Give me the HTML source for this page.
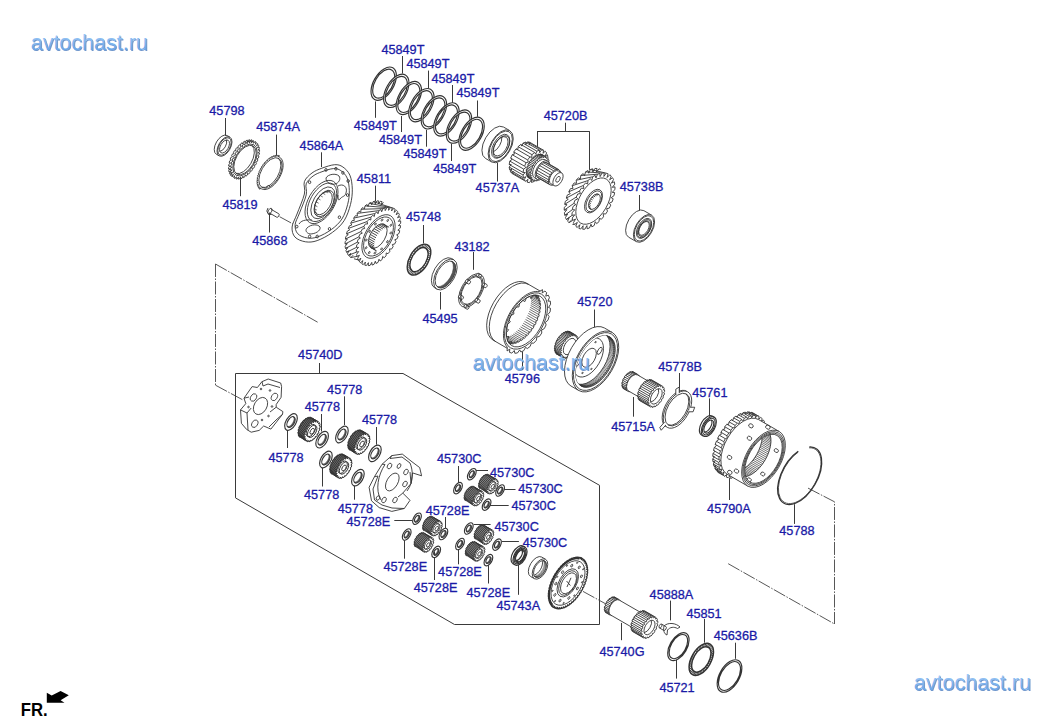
<!DOCTYPE html>
<html><head><meta charset="utf-8"><style>
html,body{margin:0;padding:0;background:#fff;width:1063px;height:727px;overflow:hidden}
svg{display:block}
.pp *{vector-effect:non-scaling-stroke}
.lb{font-family:"Liberation Sans",sans-serif;font-size:12.7px;fill:#1a1aa6;stroke:#1a1aa6;stroke-width:0.3px}
.wm{font-family:"Liberation Sans",sans-serif;font-size:21.5px;fill:#74acec}
</style></head><body>
<svg width="1063" height="727" viewBox="0 0 1063 727">
<defs><linearGradient id="wg" x1="0" y1="0" x2="0" y2="1"><stop offset="0" stop-color="#a6d0fa"/><stop offset="1" stop-color="#5c9ae2"/></linearGradient>
<filter id="ws" x="-10%" y="-30%" width="120%" height="160%"><feGaussianBlur stdDeviation="0.6"/></filter></defs>
<g stroke="#3a3a3a" stroke-width="1" fill="none">
<line x1="402.5" y1="56" x2="402.5" y2="73.5"/>
<line x1="428.5" y1="70.6" x2="428.5" y2="88.5"/>
<line x1="452.5" y1="85" x2="452.5" y2="103"/>
<line x1="477.5" y1="100.5" x2="477.5" y2="116.8"/>
<line x1="375.5" y1="101.4" x2="375.5" y2="117.8"/>
<line x1="401.5" y1="116" x2="401.5" y2="132"/>
<line x1="426.5" y1="130" x2="426.5" y2="146.7"/>
<line x1="451.5" y1="143.8" x2="451.5" y2="161"/>
<line x1="225.5" y1="118" x2="225.5" y2="135.7"/>
<line x1="276.5" y1="134.6" x2="276.5" y2="156.6"/>
<line x1="321.5" y1="152.3" x2="321.5" y2="167"/>
<line x1="240.5" y1="177.5" x2="240.5" y2="196.2"/>
<line x1="269.5" y1="213.8" x2="269.5" y2="232.5"/>
<line x1="375.5" y1="185.7" x2="375.5" y2="203.3"/>
<line x1="423.5" y1="225" x2="423.5" y2="243.5"/>
<line x1="497.5" y1="162" x2="497.5" y2="181.5"/>
<line x1="565.5" y1="122.7" x2="565.5" y2="131.4"/>
<line x1="537.5" y1="131.4" x2="537.5" y2="149.5"/>
<line x1="589.5" y1="131.4" x2="589.5" y2="170"/>
<line x1="639.5" y1="195" x2="639.5" y2="212.5"/>
<line x1="473.5" y1="252" x2="473.5" y2="269.8"/>
<line x1="440.5" y1="292" x2="440.5" y2="309.5"/>
<line x1="522.5" y1="351.6" x2="522.5" y2="370"/>
<line x1="594.5" y1="309.5" x2="594.5" y2="327"/>
<line x1="319.5" y1="363" x2="319.5" y2="373.4"/>
<line x1="344.5" y1="396.3" x2="344.5" y2="425"/>
<line x1="321.5" y1="414" x2="321.5" y2="431.5"/>
<line x1="376.5" y1="427" x2="376.5" y2="444.7"/>
<line x1="287.5" y1="428.2" x2="287.5" y2="448"/>
<line x1="322.5" y1="467.8" x2="322.5" y2="486.5"/>
<line x1="354.5" y1="485.4" x2="354.5" y2="499.7"/>
<line x1="458.5" y1="466" x2="458.5" y2="483"/>
<line x1="445.5" y1="517" x2="445.5" y2="529.4"/>
<line x1="404.5" y1="539.5" x2="404.5" y2="558.7"/>
<line x1="434.5" y1="552" x2="434.5" y2="580"/>
<line x1="458.5" y1="547.4" x2="458.5" y2="564.3"/>
<line x1="488.5" y1="564.3" x2="488.5" y2="583.5"/>
<line x1="518.5" y1="563.2" x2="518.5" y2="594.8"/>
<line x1="679.5" y1="373" x2="679.5" y2="391.8"/>
<line x1="709.5" y1="398.4" x2="709.5" y2="416.7"/>
<line x1="633.5" y1="397" x2="633.5" y2="416.7"/>
<line x1="729.5" y1="478" x2="729.5" y2="500"/>
<line x1="794.5" y1="504.2" x2="794.5" y2="523.9"/>
<line x1="670.5" y1="600.6" x2="670.5" y2="620.4"/>
<line x1="704.5" y1="619" x2="704.5" y2="642.7"/>
<line x1="735.5" y1="642.7" x2="735.5" y2="658.8"/>
<line x1="621.5" y1="622.9" x2="621.5" y2="640.2"/>
<line x1="676.5" y1="660" x2="676.5" y2="678.6"/>
<line x1="473.7" y1="470.5" x2="488" y2="470.5"/>
<line x1="503.7" y1="489.5" x2="515.5" y2="489.5"/>
<line x1="489.5" y1="505.5" x2="508.7" y2="505.5"/>
<line x1="473.7" y1="524.5" x2="490.6" y2="524.5"/>
<line x1="502" y1="541.5" x2="518.9" y2="541.5"/>
<line x1="394.3" y1="520.5" x2="412.3" y2="520.5"/>
<line x1="537" y1="131.5" x2="589.7" y2="131.5"/>
<path d="M235.5,373.5 L403,373.5 L599.5,485.3 L599.5,624.5 L454.5,624.5 L235.5,497.9 Z"/>
</g><g stroke="#444" stroke-width="0.9" fill="none" stroke-dasharray="13,1.5,1.5,1.5">
<path d="M215.5,264 L215.5,385.2"/>
<path d="M215.5,264 L317.6,322.2"/>
<path d="M215.5,385.2 L243,400"/>
<path d="M583,591.4 L605.8,603.9"/>
<path d="M808,488.1 L834.5,501.8 L834.5,624"/>
<path d="M728.2,563.7 L834.5,624"/>
<path d="M279.6,216.7 L293,224"/>
</g>
<g class="pp" stroke="#333" stroke-width="0.9" fill="none" stroke-linejoin="round"><g transform="translate(224.5,146.5) rotate(30) scale(0.555,1)" ><path fill-rule="evenodd" fill="#fff" d="M10.8,0 A10.8,10.8 0 1 0 -10.8,0 A10.8,10.8 0 1 0 10.8,0 Z M7.2,0 A7.2,7.2 0 1 0 -7.2,0 A7.2,7.2 0 1 0 7.2,0 Z"/><circle cx="0" cy="0" r="9.6" fill="none"/><path d="M-5.77,-10.8 A10.8,10.8 0 0 0 -5.77,10.8"/><path d="M-5.77,-10.8 L0,-10.8 M-5.77,10.8 L0,10.8"/><path d="M-2.88,-6.6 A7.2,7.2 0 0 1 -2.88,6.6"/></g>
<g transform="translate(245,160) rotate(30) scale(0.555,1)" ><path d="M-4.93,20.98 L-5.7,18.72 L-5.7,18.72 L-6.87,20.8 L-8.77,20.44 L-9.11,18.08 L-9.11,18.08 L-10.64,19.91 L-12.45,19.21 L-12.34,16.83 L-12.34,16.83 L-14.18,18.35 L-15.83,17.32 L-15.29,15 L-15.29,15 L-17.38,16.16 L-18.81,14.85 L-17.86,12.67 L-17.86,12.67 L-20.12,13.42 L-21.29,11.87 L-19.95,9.9 L-19.95,9.9 L-22.31,10.22 L-23.17,8.48 L-21.49,6.79 L-21.49,6.79 L-23.88,6.67 L-24.41,4.81 L-22.44,3.45 L-22.44,3.45 L-24.76,2.9 L-24.94,0.97 L-22.76,0 L-22.76,0 L-24.94,-0.97 L-24.76,-2.9 L-22.44,-3.45 L-22.44,-3.45 L-24.41,-4.81 L-23.88,-6.67 L-21.49,-6.79 L-21.49,-6.79 L-23.17,-8.48 L-22.31,-10.22 L-19.95,-9.9 L-19.95,-9.9 L-21.29,-11.87 L-20.12,-13.42 L-17.86,-12.67 L-17.86,-12.67 L-18.81,-14.85 L-17.38,-16.16 L-15.29,-15 L-15.29,-15 L-15.83,-17.32 L-14.18,-18.35 L-12.34,-16.83 L-12.34,-16.83 L-12.45,-19.21 L-10.64,-19.91 L-9.11,-18.08 L-9.11,-18.08 L-8.77,-20.44 L-6.87,-20.8 L-5.7,-18.72 L-5.7,-18.72 L-4.93,-20.98"/><path fill-rule="evenodd" fill="#fff" d="M18.8,0 L20.98,0.97 L20.8,2.9 L18.48,3.45 L18.48,3.45 L20.44,4.81 L19.91,6.67 L17.53,6.79 L17.53,6.79 L19.21,8.48 L18.35,10.22 L15.98,9.9 L15.98,9.9 L17.32,11.87 L16.16,13.42 L13.89,12.67 L13.89,12.67 L14.85,14.85 L13.42,16.16 L11.33,15 L11.33,15 L11.87,17.32 L10.22,18.35 L8.38,16.83 L8.38,16.83 L8.48,19.21 L6.67,19.91 L5.14,18.08 L5.14,18.08 L4.81,20.44 L2.9,20.8 L1.73,18.72 L1.73,18.72 L0.97,20.98 L-0.97,20.98 L-1.73,18.72 L-1.73,18.72 L-2.9,20.8 L-4.81,20.44 L-5.14,18.08 L-5.14,18.08 L-6.67,19.91 L-8.48,19.21 L-8.38,16.83 L-8.38,16.83 L-10.22,18.35 L-11.87,17.32 L-11.33,15 L-11.33,15 L-13.42,16.16 L-14.85,14.85 L-13.89,12.67 L-13.89,12.67 L-16.16,13.42 L-17.32,11.87 L-15.98,9.9 L-15.98,9.9 L-18.35,10.22 L-19.21,8.48 L-17.53,6.79 L-17.53,6.79 L-19.91,6.67 L-20.44,4.81 L-18.48,3.45 L-18.48,3.45 L-20.8,2.9 L-20.98,0.97 L-18.8,0 L-18.8,0 L-20.98,-0.97 L-20.8,-2.9 L-18.48,-3.45 L-18.48,-3.45 L-20.44,-4.81 L-19.91,-6.67 L-17.53,-6.79 L-17.53,-6.79 L-19.21,-8.48 L-18.35,-10.22 L-15.98,-9.9 L-15.98,-9.9 L-17.32,-11.87 L-16.16,-13.42 L-13.89,-12.67 L-13.89,-12.67 L-14.85,-14.85 L-13.42,-16.16 L-11.33,-15 L-11.33,-15 L-11.87,-17.32 L-10.22,-18.35 L-8.38,-16.83 L-8.38,-16.83 L-8.48,-19.21 L-6.67,-19.91 L-5.14,-18.08 L-5.14,-18.08 L-4.81,-20.44 L-2.9,-20.8 L-1.73,-18.72 L-1.73,-18.72 L-0.97,-20.98 L0.97,-20.98 L1.73,-18.72 L1.73,-18.72 L2.9,-20.8 L4.81,-20.44 L5.14,-18.08 L5.14,-18.08 L6.67,-19.91 L8.48,-19.21 L8.38,-16.83 L8.38,-16.83 L10.22,-18.35 L11.87,-17.32 L11.33,-15 L11.33,-15 L13.42,-16.16 L14.85,-14.85 L13.89,-12.67 L13.89,-12.67 L16.16,-13.42 L17.32,-11.87 L15.98,-9.9 L15.98,-9.9 L18.35,-10.22 L19.21,-8.48 L17.53,-6.79 L17.53,-6.79 L19.91,-6.67 L20.44,-4.81 L18.48,-3.45 L18.48,-3.45 L20.8,-2.9 L20.98,-0.97 L18.8,-0 Z M16.2,0 A16.2,16.2 0 1 0 -16.2,0 A16.2,16.2 0 1 0 16.2,0 Z"/><circle cx="0" cy="0" r="17.6" fill="none"/><path d="M-1.98,-16.08 A16.2,16.2 0 0 1 -1.98,16.08"/></g>
<g transform="translate(270.5,173) rotate(30) scale(0.555,1)" ><path fill-rule="evenodd" fill="#fff" d="M-1.91,19.41 L-2.38,18.04 L-2.38,18.04 L-3.18,19.24 L-4.43,18.99 L-4.71,17.58 L-4.71,17.58 L-5.66,18.66 L-6.87,18.25 L-6.96,16.81 L-6.96,16.81 L-8.05,17.76 L-9.19,17.2 L-9.1,15.76 L-9.1,15.76 L-10.3,16.56 L-11.36,15.85 L-11.08,14.44 L-11.08,14.44 L-12.37,15.07 L-13.33,14.23 L-12.87,12.87 L-12.87,12.87 L-14.23,13.33 L-15.07,12.37 L-14.44,11.08 L-14.44,11.08 L-15.85,11.36 L-16.56,10.3 L-15.76,9.1 L-15.76,9.1 L-17.2,9.19 L-17.76,8.05 L-16.81,6.96 L-16.81,6.96 L-18.25,6.87 L-18.66,5.66 L-17.58,4.71 L-17.58,4.71 L-18.99,4.43 L-19.24,3.18 L-18.04,2.38 L-18.04,2.38 L-19.41,1.91 L-19.49,0.64 L-18.2,0 L-18.2,0 L-19.49,-0.64 L-19.41,-1.91 L-18.04,-2.38 L-18.04,-2.38 L-19.24,-3.18 L-18.99,-4.43 L-17.58,-4.71 L-17.58,-4.71 L-18.66,-5.66 L-18.25,-6.87 L-16.81,-6.96 L-16.81,-6.96 L-17.76,-8.05 L-17.2,-9.19 L-15.76,-9.1 L-15.76,-9.1 L-16.56,-10.3 L-15.85,-11.36 L-14.44,-11.08 L-14.44,-11.08 L-15.07,-12.37 L-14.23,-13.33 L-12.87,-12.87 L-12.87,-12.87 L-13.33,-14.23 L-12.37,-15.07 L-11.08,-14.44 L-11.08,-14.44 L-11.36,-15.85 L-10.3,-16.56 L-9.1,-15.76 L-9.1,-15.76 L-9.19,-17.2 L-8.05,-17.76 L-6.96,-16.81 L-6.96,-16.81 L-6.87,-18.25 L-5.66,-18.66 L-4.71,-17.58 L-4.71,-17.58 L-4.43,-18.99 L-3.18,-19.24 L-2.38,-18.04 L-2.38,-18.04 L-1.91,-19.41 L-1.59,-18.13 L0.42,-18.2 L2.43,-18.04 L4.4,-17.66 L6.32,-17.07 L8.17,-16.26 L9.91,-15.26 L11.54,-14.08 L13.02,-12.72 L14.34,-11.21 L15.49,-9.55 L16.45,-7.79 L17.21,-5.93 L17.76,-3.99 L18.09,-2.01 L18.2,-0 L18.09,2.01 L17.76,3.99 L17.21,5.93 L16.45,7.79 L15.49,9.55 L14.34,11.21 L13.02,12.72 L11.54,14.08 L9.91,15.26 L8.17,16.26 L6.32,17.07 L4.4,17.66 L2.43,18.04 L0.42,18.2 L-1.59,18.13 Z M16.8,0 A16.8,16.8 0 1 0 -16.8,0 A16.8,16.8 0 1 0 16.8,0 Z"/><path d="M-1.35,-16.75 A16.8,16.8 0 0 1 -1.35,16.75"/><path d="M10.8,12.87 L9.32,11.11 L6.81,12.8 L7.89,14.83" fill="#fff"/></g>
<path d="M334.7,164.7 C338.2,164.5 340.37,165.25 342.9,167 C345.43,168.75 348.33,171.5 349.9,175.2 C351.47,178.9 352.2,184.33 352.3,189.2 C352.4,194.07 351.87,199.15 350.5,204.4 C349.13,209.65 347.12,216.03 344.1,220.7 C341.08,225.37 336.88,229.08 332.4,232.4 C327.92,235.72 321.68,239.03 317.2,240.6 C312.72,242.17 309.2,242.38 305.5,241.8 C301.8,241.22 297.23,239.57 295,237.1 C292.77,234.63 291.77,230.85 292.1,227 C292.43,223.15 294.95,219.5 297,214 C299.05,208.5 303.17,199.4 304.4,194 C305.63,188.6 303.13,185.1 304.4,181.6 C305.67,178.1 309.08,175.23 312,173 C314.92,170.77 318.12,169.58 321.9,168.2 C325.68,166.82 331.2,164.9 334.7,164.7 Z" fill="#fff"/>
<path d="M333.48,168.58 C336.63,168.4 338.58,169.07 340.86,170.65 C343.14,172.23 345.75,174.7 347.16,178.03 C348.57,181.36 349.23,186.25 349.32,190.63 C349.41,195.01 348.93,199.59 347.7,204.31 C346.47,209.03 344.65,214.78 341.94,218.98 C339.23,223.18 335.44,226.52 331.41,229.51 C327.38,232.5 321.76,235.48 317.73,236.89 C313.7,238.3 310.53,238.5 307.2,237.97 C303.87,237.45 299.76,235.96 297.75,233.74 C295.74,231.52 294.84,228.12 295.14,224.65 C295.44,221.19 297.71,217.9 299.55,212.95 C301.39,208 305.1,199.81 306.21,194.95 C307.32,190.09 305.07,186.94 306.21,183.79 C307.35,180.64 310.43,178.06 313.05,176.05 C315.68,174.04 318.55,172.97 321.96,171.73 C325.37,170.48 330.33,168.76 333.48,168.58 Z"/>
<g transform="translate(321.5,202) rotate(30) scale(0.555,1)" ><circle cx="0" cy="0" r="23.8" fill="#fff"/><circle cx="1" cy="0" r="21.2" fill="none"/><circle cx="3" cy="0" r="17.5" fill="#fff"/><circle cx="5.5" cy="0" r="14.5" fill="#fff"/><circle cx="4" cy="0" r="12.8" fill="none"/><path d="M0.04,13.63 L6.04,13.63 M-3.32,11.88 L2.68,11.88 M-6.11,9.32 L-0.11,9.32 M-8.14,6.13 L-2.14,6.13 M-9.28,2.52 L-3.28,2.52 M-9.44,-1.26 L-3.44,-1.26 M-8.63,-4.96 L-2.63,-4.96 M-6.88,-8.32 L-0.88,-8.32 M-4.32,-11.11 L1.68,-11.11 M-1.13,-13.14 L4.87,-13.14 " stroke-width="0.7"/></g>
<ellipse cx="325.97" cy="169.93" rx="1.2" ry="1.4"/>
<ellipse cx="335.9" cy="168.76" rx="1.2" ry="1.4"/>
<ellipse cx="342.91" cy="172.85" rx="1.2" ry="1.4"/>
<ellipse cx="348.16" cy="181.03" rx="1.2" ry="1.4"/>
<ellipse cx="347.58" cy="195.05" rx="1.2" ry="1.4"/>
<ellipse cx="339.4" cy="217.24" rx="1.2" ry="1.4"/>
<ellipse cx="329.47" cy="228.93" rx="1.2" ry="1.4"/>
<ellipse cx="317.21" cy="236.52" rx="1.2" ry="1.4"/>
<ellipse cx="309.61" cy="236.52" rx="1.2" ry="1.4"/>
<ellipse cx="296.76" cy="226.59" rx="1.2" ry="1.4"/>
<ellipse cx="309.61" cy="182.2" rx="1.2" ry="1.4"/>
<path d="M326,178 C328,174 336,173 339,176 C341,179 339,183 335,184 C331,185 326,183 326,178 Z"/>
<path d="M338,186 C343,183 348,187 346,193 C345,197 342,196 340,199 C338,202 338,197 338,195"/>
<path d="M307,228 C311,224 318,224 320,227 C321,231 315,234 310,234 C306,233 305,230 307,228 Z"/>
<path d="M299,224 C302,219 309,220 312,220"/>
<g transform="translate(270,211) rotate(30) scale(0.555,1)" ><circle cx="0" cy="0" r="3" fill="#fff"/><path d="M0,-2 L16.22,-2 M0,2 L16.22,2"/><path d="M16.22,-2 A2,2 0 0 1 16.22,2"/></g>
<path d="M268,208 L266.8,211 L268.5,214.5 L271.5,214.5" fill="none"/>
<g transform="translate(383.7,83.7) rotate(30) scale(0.555,1)" ><path stroke-width="1.15" fill-rule="evenodd" fill="#fff" d="M18.3,0 A18.3,18.3 0 1 0 -18.3,0 A18.3,18.3 0 1 0 18.3,0 Z M15.9,0 A15.9,15.9 0 1 0 -15.9,0 A15.9,15.9 0 1 0 15.9,0 Z"/></g>
<g transform="translate(396.25,90.85) rotate(30) scale(0.555,1)" ><path stroke-width="1.15" fill-rule="evenodd" fill="#fff" d="M18.3,0 A18.3,18.3 0 1 0 -18.3,0 A18.3,18.3 0 1 0 18.3,0 Z M15.9,0 A15.9,15.9 0 1 0 -15.9,0 A15.9,15.9 0 1 0 15.9,0 Z"/></g>
<g transform="translate(408.8,98) rotate(30) scale(0.555,1)" ><path stroke-width="1.15" fill-rule="evenodd" fill="#fff" d="M18.3,0 A18.3,18.3 0 1 0 -18.3,0 A18.3,18.3 0 1 0 18.3,0 Z M15.9,0 A15.9,15.9 0 1 0 -15.9,0 A15.9,15.9 0 1 0 15.9,0 Z"/></g>
<g transform="translate(421.35,105.15) rotate(30) scale(0.555,1)" ><path stroke-width="1.15" fill-rule="evenodd" fill="#fff" d="M18.3,0 A18.3,18.3 0 1 0 -18.3,0 A18.3,18.3 0 1 0 18.3,0 Z M15.9,0 A15.9,15.9 0 1 0 -15.9,0 A15.9,15.9 0 1 0 15.9,0 Z"/></g>
<g transform="translate(433.9,112.3) rotate(30) scale(0.555,1)" ><path stroke-width="1.15" fill-rule="evenodd" fill="#fff" d="M18.3,0 A18.3,18.3 0 1 0 -18.3,0 A18.3,18.3 0 1 0 18.3,0 Z M15.9,0 A15.9,15.9 0 1 0 -15.9,0 A15.9,15.9 0 1 0 15.9,0 Z"/></g>
<g transform="translate(446.45,119.45) rotate(30) scale(0.555,1)" ><path stroke-width="1.15" fill-rule="evenodd" fill="#fff" d="M18.3,0 A18.3,18.3 0 1 0 -18.3,0 A18.3,18.3 0 1 0 18.3,0 Z M15.9,0 A15.9,15.9 0 1 0 -15.9,0 A15.9,15.9 0 1 0 15.9,0 Z"/></g>
<g transform="translate(459,126.6) rotate(30) scale(0.555,1)" ><path stroke-width="1.15" fill-rule="evenodd" fill="#fff" d="M18.3,0 A18.3,18.3 0 1 0 -18.3,0 A18.3,18.3 0 1 0 18.3,0 Z M15.9,0 A15.9,15.9 0 1 0 -15.9,0 A15.9,15.9 0 1 0 15.9,0 Z"/></g>
<g transform="translate(471.55,133.75) rotate(30) scale(0.555,1)" ><path stroke-width="1.15" fill-rule="evenodd" fill="#fff" d="M18.3,0 A18.3,18.3 0 1 0 -18.3,0 A18.3,18.3 0 1 0 18.3,0 Z M15.9,0 A15.9,15.9 0 1 0 -15.9,0 A15.9,15.9 0 1 0 15.9,0 Z"/></g>
<g transform="translate(378.5,236.5) rotate(30) scale(0.555,1)" ><path d="M0,-32 L-23.42,-32 A32,32 0 0 0 -23.42,32 L0,32 A32,32 0 0 0 0,-32 Z" fill="#fff" stroke="none"/><path d="M-22.65,28.79 L-22.65,28.79 L-24.05,31.99 L-27,31.8 L-27.96,28.44 L-27.96,28.44 L-29.92,31.33 L-32.78,30.6 L-33.11,27.12 L-33.11,27.12 L-35.56,29.61 L-38.24,28.36 L-37.93,24.88 L-37.93,24.88 L-40.8,26.87 L-43.2,25.16 L-42.25,21.79 L-42.25,21.79 L-45.44,23.22 L-47.49,21.09 L-45.93,17.96 L-45.93,17.96 L-49.33,18.78 L-50.95,16.31 L-48.85,13.52 L-48.85,13.52 L-52.34,13.7 L-53.48,10.98 L-50.9,8.62 L-50.9,8.62 L-54.37,8.16 L-54.99,5.27 L-52.02,3.42 L-52.02,3.42 L-55.34,2.33 L-55.42,-0.62 L-52.16,-1.89 L-52.16,-1.89 L-55.22,-3.57 L-54.76,-6.49 L-51.32,-7.14 L-51.32,-7.14 L-54.03,-9.36 L-53.03,-12.14 L-49.54,-12.14 L-49.54,-12.14 L-51.78,-14.82 L-50.3,-17.37 L-46.86,-16.74 L-46.86,-16.74 L-48.58,-19.78 L-46.65,-22.02 L-43.39,-20.76 L-43.39,-20.76 L-44.52,-24.06 L-42.21,-25.91 L-39.23,-24.07 L-39.23,-24.07 L-39.74,-27.53 L-37.13,-28.92 L-34.54,-26.57 L-34.54,-26.57 L-34.4,-30.06 L-31.58,-30.94 L-29.47,-28.16 L-29.47,-28.16 L-28.69,-31.56 L-25.75,-31.92 L-24.19,-28.79 L-24.19,-28.79 L-22.8,-31.99"/><path d="M-4.42,31.69 L-12.45,30.06 M-10.17,30.34 L-18.16,31.56 M-15.57,27.96 L-24.05,31.99 M-20.44,24.62 L-29.92,31.33 M-24.62,20.44 L-35.56,29.61 M-27.96,15.57 L-40.8,26.87 M-30.34,10.17 L-45.44,23.22 M-31.69,4.42 L-49.33,18.78 M-31.97,-1.48 L-52.34,13.7 M-31.15,-7.33 L-54.37,8.16 M-29.27,-12.93 L-55.34,2.33 M-26.4,-18.08 L-55.22,-3.57 M-22.63,-22.63 L-54.03,-9.36 M-18.08,-26.4 L-51.78,-14.82 M-12.93,-29.27 L-48.58,-19.78 M-7.33,-31.15 L-44.52,-24.06 M-1.48,-31.97 L-39.74,-27.53 "/><path d="M28.8,0 L31.97,1.48 L31.69,4.42 L28.31,5.29 L28.31,5.29 L31.15,7.33 L30.34,10.17 L26.86,10.4 L26.86,10.4 L29.27,12.93 L27.96,15.57 L24.49,15.16 L24.49,15.16 L26.4,18.08 L24.62,20.44 L21.28,19.4 L21.28,19.4 L22.63,22.63 L20.44,24.62 L17.36,22.98 L17.36,22.98 L18.08,26.4 L15.57,27.96 L12.84,25.78 L12.84,25.78 L12.93,29.27 L10.17,30.34 L7.88,27.7 L7.88,27.7 L7.33,31.15 L4.42,31.69 L2.66,28.68 L2.66,28.68 L1.48,31.97 L-1.48,31.97 L-2.66,28.68 L-2.66,28.68 L-4.42,31.69 L-7.33,31.15 L-7.88,27.7 L-7.88,27.7 L-10.17,30.34 L-12.93,29.27 L-12.84,25.78 L-12.84,25.78 L-15.57,27.96 L-18.08,26.4 L-17.36,22.98 L-17.36,22.98 L-20.44,24.62 L-22.63,22.63 L-21.28,19.4 L-21.28,19.4 L-24.62,20.44 L-26.4,18.08 L-24.49,15.16 L-24.49,15.16 L-27.96,15.57 L-29.27,12.93 L-26.86,10.4 L-26.86,10.4 L-30.34,10.17 L-31.15,7.33 L-28.31,5.29 L-28.31,5.29 L-31.69,4.42 L-31.97,1.48 L-28.8,0 L-28.8,0 L-31.97,-1.48 L-31.69,-4.42 L-28.31,-5.29 L-28.31,-5.29 L-31.15,-7.33 L-30.34,-10.17 L-26.86,-10.4 L-26.86,-10.4 L-29.27,-12.93 L-27.96,-15.57 L-24.49,-15.16 L-24.49,-15.16 L-26.4,-18.08 L-24.62,-20.44 L-21.28,-19.4 L-21.28,-19.4 L-22.63,-22.63 L-20.44,-24.62 L-17.36,-22.98 L-17.36,-22.98 L-18.08,-26.4 L-15.57,-27.96 L-12.84,-25.78 L-12.84,-25.78 L-12.93,-29.27 L-10.17,-30.34 L-7.88,-27.7 L-7.88,-27.7 L-7.33,-31.15 L-4.42,-31.69 L-2.66,-28.68 L-2.66,-28.68 L-1.48,-31.97 L1.48,-31.97 L2.66,-28.68 L2.66,-28.68 L4.42,-31.69 L7.33,-31.15 L7.88,-27.7 L7.88,-27.7 L10.17,-30.34 L12.93,-29.27 L12.84,-25.78 L12.84,-25.78 L15.57,-27.96 L18.08,-26.4 L17.36,-22.98 L17.36,-22.98 L20.44,-24.62 L22.63,-22.63 L21.28,-19.4 L21.28,-19.4 L24.62,-20.44 L26.4,-18.08 L24.49,-15.16 L24.49,-15.16 L27.96,-15.57 L29.27,-12.93 L26.86,-10.4 L26.86,-10.4 L30.34,-10.17 L31.15,-7.33 L28.31,-5.29 L28.31,-5.29 L31.69,-4.42 L31.97,-1.48 L28.8,-0 Z" fill="#fff"/><circle cx="0" cy="0" r="24" fill="#fff"/><circle cx="0" cy="0" r="21.5" fill="none"/><circle cx="-1.5" cy="0" r="13.5" fill="#fff"/><circle cx="18.5" cy="0" r="1.2"/><circle cx="16.02" cy="9.25" r="1.2"/><circle cx="9.25" cy="16.02" r="1.2"/><circle cx="0" cy="18.5" r="1.2"/><circle cx="-9.25" cy="16.02" r="1.2"/><circle cx="-16.02" cy="9.25" r="1.2"/><circle cx="-18.5" cy="0" r="1.2"/><circle cx="-16.02" cy="-9.25" r="1.2"/><circle cx="-9.25" cy="-16.02" r="1.2"/><circle cx="-0" cy="-18.5" r="1.2"/><circle cx="9.25" cy="-16.02" r="1.2"/><circle cx="16.02" cy="-9.25" r="1.2"/><path d="M-1.5,13.5 L10.5,13.5 M-3.84,13.29 L8.16,13.29 M-6.12,12.69 L5.88,12.69 M-8.25,11.69 L3.75,11.69 M-10.18,10.34 L1.82,10.34 M-11.84,8.68 L0.16,8.68 M-13.19,6.75 L-1.19,6.75 M-14.19,4.62 L-2.19,4.62 M-14.79,2.34 L-2.79,2.34 M-15,0 L-3,0 M-14.79,-2.34 L-2.79,-2.34 M-14.19,-4.62 L-2.19,-4.62 M-13.19,-6.75 L-1.19,-6.75 M-11.84,-8.68 L0.16,-8.68 M-10.18,-10.34 L1.82,-10.34 M-8.25,-11.69 L3.75,-11.69 M-6.12,-12.69 L5.88,-12.69 M-3.84,-13.29 L8.16,-13.29 "/></g>
<g transform="translate(419,259.6) rotate(30) scale(0.555,1)" ><path fill-rule="evenodd" fill="#fff" stroke-width="1.4" d="M17,0 A17,17 0 1 0 -17,0 A17,17 0 1 0 17,0 Z M13.2,0 A13.2,13.2 0 1 0 -13.2,0 A13.2,13.2 0 1 0 13.2,0 Z"/><path d="M13.2,0 L17,0 M13.04,2.06 L16.79,2.66 M12.55,4.08 L16.17,5.25 M11.76,5.99 L15.15,7.72 M10.68,7.76 L13.75,9.99 M9.33,9.33 L12.02,12.02 M7.76,10.68 L9.99,13.75 M5.99,11.76 L7.72,15.15 M4.08,12.55 L5.25,16.17 M2.06,13.04 L2.66,16.79 M0,13.2 L0,17 M-2.06,13.04 L-2.66,16.79 M-4.08,12.55 L-5.25,16.17 M-5.99,11.76 L-7.72,15.15 M-7.76,10.68 L-9.99,13.75 M-9.33,9.33 L-12.02,12.02 M-10.68,7.76 L-13.75,9.99 M-11.76,5.99 L-15.15,7.72 M-12.55,4.08 L-16.17,5.25 M-13.04,2.06 L-16.79,2.66 M-13.2,0 L-17,0 M-13.04,-2.06 L-16.79,-2.66 M-12.55,-4.08 L-16.17,-5.25 M-11.76,-5.99 L-15.15,-7.72 M-10.68,-7.76 L-13.75,-9.99 M-9.33,-9.33 L-12.02,-12.02 M-7.76,-10.68 L-9.99,-13.75 M-5.99,-11.76 L-7.72,-15.15 M-4.08,-12.55 L-5.25,-16.17 M-2.06,-13.04 L-2.66,-16.79 M-0,-13.2 L-0,-17 M2.06,-13.04 L2.66,-16.79 M4.08,-12.55 L5.25,-16.17 M5.99,-11.76 L7.72,-15.15 M7.76,-10.68 L9.99,-13.75 M9.33,-9.33 L12.02,-12.02 M10.68,-7.76 L13.75,-9.99 M11.76,-5.99 L15.15,-7.72 M12.55,-4.08 L16.17,-5.25 M13.04,-2.06 L16.79,-2.66 " stroke-width="0.8"/></g>
<g transform="translate(445.4,274.5) rotate(30) scale(0.555,1)" ><path d="M0,-17 L-4.68,-17 A17,17 0 0 0 -4.68,17 L0,17 Z" fill="#fff" stroke="none"/><path d="M0,-17 L-4.68,-17 A17,17 0 0 0 -4.68,17 L0,17"/><path fill-rule="evenodd" fill="#fff" d="M17,0 A17,17 0 1 0 -17,0 A17,17 0 1 0 17,0 Z M14.8,0 A14.8,14.8 0 1 0 -14.8,0 A14.8,14.8 0 1 0 14.8,0 Z"/><path d="M-2.34,-14.61 A14.8,14.8 0 1 1 -2.34,14.61 A14.8,14.8 0 0 0 -2.34,-14.61 Z" fill="#555" stroke-width="0.5"/></g>
<g transform="translate(471.5,290.5) rotate(30) scale(0.555,1)" ><path fill-rule="evenodd" fill="#fff" d="M18.5,0 A18.5,18.5 0 1 0 -18.5,0 A18.5,18.5 0 1 0 18.5,0 Z M15.2,0 A15.2,15.2 0 1 0 -15.2,0 A15.2,15.2 0 1 0 15.2,0 Z"/><circle cx="0" cy="0" r="16.6" fill="none"/><g transform="translate(16.16,5.88)"><circle cx="0" cy="0" r="1.8" fill="#fff"/><path d="M0,-1.8 L5.41,-1.8 M0,1.8 L5.41,1.8"/><path d="M5.41,-1.8 A1.8,1.8 0 0 1 5.41,1.8"/></g><g transform="translate(4.45,16.61)"><circle cx="0" cy="0" r="1.8" fill="#fff"/><path d="M0,-1.8 L5.41,-1.8 M0,1.8 L5.41,1.8"/><path d="M5.41,-1.8 A1.8,1.8 0 0 1 5.41,1.8"/></g><g transform="translate(-13.18,11.06)"><circle cx="0" cy="0" r="1.8" fill="#fff"/><path d="M0,-1.8 L5.41,-1.8 M0,1.8 L5.41,1.8"/><path d="M5.41,-1.8 A1.8,1.8 0 0 1 5.41,1.8"/></g><g transform="translate(-16.16,-5.88)"><circle cx="0" cy="0" r="1.8" fill="#fff"/><path d="M0,-1.8 L5.41,-1.8 M0,1.8 L5.41,1.8"/><path d="M5.41,-1.8 A1.8,1.8 0 0 1 5.41,1.8"/></g><g transform="translate(-4.45,-16.61)"><circle cx="0" cy="0" r="1.8" fill="#fff"/><path d="M0,-1.8 L5.41,-1.8 M0,1.8 L5.41,1.8"/><path d="M5.41,-1.8 A1.8,1.8 0 0 1 5.41,1.8"/></g><g transform="translate(13.18,-11.06)"><circle cx="0" cy="0" r="1.8" fill="#fff"/><path d="M0,-1.8 L5.41,-1.8 M0,1.8 L5.41,1.8"/><path d="M5.41,-1.8 A1.8,1.8 0 0 1 5.41,1.8"/></g></g>
<g transform="translate(500.7,146.3) rotate(30) scale(0.555,1)" ><path d="M0,-18.1 L-12.97,-18.1 A18.1,18.1 0 0 0 -12.97,18.1 L0,18.1 A18.1,18.1 0 0 0 0,-18.1 Z" fill="#fff" stroke="none"/><path d="M-12.97,-18.1 A18.1,18.1 0 0 0 -12.97,18.1"/><path d="M-12.97,-18.1 L0,-18.1 M-12.97,18.1 L0,18.1"/><circle cx="0" cy="0" r="18.1" fill="#fff"/><circle cx="0" cy="0" r="16.8" fill="none"/><path fill-rule="evenodd" fill="#fff" d="M13.2,0 A13.2,13.2 0 1 0 -13.2,0 A13.2,13.2 0 1 0 13.2,0 Z M10.6,0 A10.6,10.6 0 1 0 -10.6,0 A10.6,10.6 0 1 0 10.6,0 Z"/><circle cx="1.2" cy="0" r="12" fill="none"/><path d="M-6.49,-8.38 A10.6,10.6 0 0 1 -6.49,8.38"/></g>
<g transform="translate(558,179.3) rotate(30) scale(0.555,1)" ><path d="M-46.85,-18 L-75.68,-18 A18,18 0 0 0 -75.68,18 L-46.85,18 A18,18 0 0 0 -46.85,-18 Z" fill="#fff" stroke="none"/><path d="M-75.68,15 L-75.68,15 L-77.26,17.93 L-81.07,17.17 L-81.42,13.86 L-81.42,13.86 L-84,15.96 L-87.23,13.8 L-86.28,10.61 L-86.28,10.61 L-89.48,11.56 L-91.63,8.33 L-89.53,5.74 L-89.53,5.74 L-92.85,5.39 L-93.61,1.59 L-90.68,0 L-90.68,0 L-93.61,-1.59 L-92.85,-5.39 L-89.53,-5.74 L-89.53,-5.74 L-91.63,-8.33 L-89.48,-11.56 L-86.28,-10.61 L-86.28,-10.61 L-87.23,-13.8 L-84,-15.96 L-81.42,-13.86 L-81.42,-13.86 L-81.07,-17.17 L-77.26,-17.93 L-75.68,-15 L-75.68,-15"/><path d="M-48.44,17.93 L-77.26,17.93 M-52.24,17.17 L-81.07,17.17 M-55.18,15.96 L-84,15.96 M-58.4,13.8 L-87.23,13.8 M-60.65,11.56 L-89.48,11.56 M-62.8,8.33 L-91.63,8.33 M-64.02,5.39 L-92.85,5.39 M-64.78,1.59 L-93.61,1.59 M-64.78,-1.59 L-93.61,-1.59 M-64.02,-5.39 L-92.85,-5.39 M-62.8,-8.33 L-91.63,-8.33 M-60.65,-11.56 L-89.48,-11.56 M-58.4,-13.8 L-87.23,-13.8 M-55.18,-15.96 L-84,-15.96 M-52.24,-17.17 L-81.07,-17.17 M-48.44,-17.93 L-77.26,-17.93 "/><path d="M-31.85,0 L-31.85,0 L-28.92,1.59 L-29.67,5.39 L-32.99,5.74 L-32.99,5.74 L-30.89,8.33 L-33.05,11.56 L-36.24,10.61 L-36.24,10.61 L-35.29,13.8 L-38.52,15.96 L-41.11,13.86 L-41.11,13.86 L-41.45,17.17 L-45.26,17.93 L-46.85,15 L-46.85,15 L-48.44,17.93 L-52.24,17.17 L-52.59,13.86 L-52.59,13.86 L-55.18,15.96 L-58.4,13.8 L-57.45,10.61 L-57.45,10.61 L-60.65,11.56 L-62.8,8.33 L-60.71,5.74 L-60.71,5.74 L-64.02,5.39 L-64.78,1.59 L-61.85,0 L-61.85,0 L-64.78,-1.59 L-64.02,-5.39 L-60.71,-5.74 L-60.71,-5.74 L-62.8,-8.33 L-60.65,-11.56 L-57.45,-10.61 L-57.45,-10.61 L-58.4,-13.8 L-55.18,-15.96 L-52.59,-13.86 L-52.59,-13.86 L-52.24,-17.17 L-48.44,-17.93 L-46.85,-15 L-46.85,-15 L-45.26,-17.93 L-41.45,-17.17 L-41.11,-13.86 L-41.11,-13.86 L-38.52,-15.96 L-35.29,-13.8 L-36.24,-10.61 L-36.24,-10.61 L-33.05,-11.56 L-30.89,-8.33 L-32.99,-5.74 L-32.99,-5.74 L-29.67,-5.39 L-28.92,-1.59 L-31.85,-0 L-31.85,-0 Z" fill="#fff"/><path d="M-37.84,-13.5 L-46.85,-13.5 A13.5,13.5 0 0 0 -46.85,13.5 L-37.84,13.5 A13.5,13.5 0 0 0 -37.84,-13.5 Z" fill="#fff" stroke="none"/><path d="M-47.66,13.48 L-48.32,12.11 L-48.32,12.11 L-49.28,13.28 L-50.86,12.89 L-51.17,11.41 L-51.17,11.41 L-52.39,12.31 L-53.83,11.55 L-53.78,10.04 L-53.78,10.04 L-55.17,10.63 L-56.39,9.55 L-55.98,8.09 L-55.98,8.09 L-57.47,8.33 L-58.4,6.98 L-57.65,5.67 L-57.65,5.67 L-59.16,5.54 L-59.74,4.02 L-58.69,2.92 L-58.69,2.92 L-60.13,2.43 L-60.32,0.82 L-59.05,0 L-59.05,0 L-60.32,-0.82 L-60.13,-2.43 L-58.69,-2.92 L-58.69,-2.92 L-59.74,-4.02 L-59.16,-5.54 L-57.65,-5.67 L-57.65,-5.67 L-58.4,-6.98 L-57.47,-8.33 L-55.98,-8.09 L-55.98,-8.09 L-56.39,-9.55 L-55.17,-10.63 L-53.78,-10.04 L-53.78,-10.04 L-53.83,-11.55 L-52.39,-12.31 L-51.17,-11.41 L-51.17,-11.41 L-50.86,-12.89 L-49.28,-13.28 L-48.32,-12.11 L-48.32,-12.11 L-47.66,-13.48"/><path d="M-38.65,13.48 L-47.66,13.48 M-40.27,13.28 L-49.28,13.28 M-41.85,12.89 L-50.86,12.89 M-43.38,12.31 L-52.39,12.31 M-44.82,11.55 L-53.83,11.55 M-46.16,10.63 L-55.17,10.63 M-47.38,9.55 L-56.39,9.55 M-48.46,8.33 L-57.47,8.33 M-49.39,6.98 L-58.4,6.98 M-50.15,5.54 L-59.16,5.54 M-50.73,4.02 L-59.74,4.02 M-51.12,2.43 L-60.13,2.43 M-51.31,0.82 L-60.32,0.82 M-51.31,-0.82 L-60.32,-0.82 M-51.12,-2.43 L-60.13,-2.43 M-50.73,-4.02 L-59.74,-4.02 M-50.15,-5.54 L-59.16,-5.54 M-49.39,-6.98 L-58.4,-6.98 M-48.46,-8.33 L-57.47,-8.33 M-47.38,-9.55 L-56.39,-9.55 M-46.16,-10.63 L-55.17,-10.63 M-44.82,-11.55 L-53.83,-11.55 M-43.38,-12.31 L-52.39,-12.31 M-41.85,-12.89 L-50.86,-12.89 M-40.27,-13.28 L-49.28,-13.28 M-38.65,-13.48 L-47.66,-13.48 "/><path d="M-25.64,0 L-25.64,0 L-24.36,0.82 L-24.56,2.43 L-25.99,2.92 L-25.99,2.92 L-24.95,4.02 L-25.53,5.54 L-27.04,5.67 L-27.04,5.67 L-26.28,6.98 L-27.21,8.33 L-28.71,8.09 L-28.71,8.09 L-28.29,9.55 L-29.51,10.63 L-30.91,10.04 L-30.91,10.04 L-30.85,11.55 L-32.3,12.31 L-33.51,11.41 L-33.51,11.41 L-33.82,12.89 L-35.4,13.28 L-36.37,12.11 L-36.37,12.11 L-37.02,13.48 L-38.65,13.48 L-39.31,12.11 L-39.31,12.11 L-40.27,13.28 L-41.85,12.89 L-42.16,11.41 L-42.16,11.41 L-43.38,12.31 L-44.82,11.55 L-44.77,10.04 L-44.77,10.04 L-46.16,10.63 L-47.38,9.55 L-46.97,8.09 L-46.97,8.09 L-48.46,8.33 L-49.39,6.98 L-48.64,5.67 L-48.64,5.67 L-50.15,5.54 L-50.73,4.02 L-49.68,2.92 L-49.68,2.92 L-51.12,2.43 L-51.31,0.82 L-50.04,0 L-50.04,0 L-51.31,-0.82 L-51.12,-2.43 L-49.68,-2.92 L-49.68,-2.92 L-50.73,-4.02 L-50.15,-5.54 L-48.64,-5.67 L-48.64,-5.67 L-49.39,-6.98 L-48.46,-8.33 L-46.97,-8.09 L-46.97,-8.09 L-47.38,-9.55 L-46.16,-10.63 L-44.77,-10.04 L-44.77,-10.04 L-44.82,-11.55 L-43.38,-12.31 L-42.16,-11.41 L-42.16,-11.41 L-41.85,-12.89 L-40.27,-13.28 L-39.31,-12.11 L-39.31,-12.11 L-38.65,-13.48 L-37.02,-13.48 L-36.37,-12.11 L-36.37,-12.11 L-35.4,-13.28 L-33.82,-12.89 L-33.51,-11.41 L-33.51,-11.41 L-32.3,-12.31 L-30.85,-11.55 L-30.91,-10.04 L-30.91,-10.04 L-29.51,-10.63 L-28.29,-9.55 L-28.71,-8.09 L-28.71,-8.09 L-27.21,-8.33 L-26.28,-6.98 L-27.04,-5.67 L-27.04,-5.67 L-25.53,-5.54 L-24.95,-4.02 L-25.99,-2.92 L-25.99,-2.92 L-24.56,-2.43 L-24.36,-0.82 L-25.64,-0 L-25.64,0 Z" fill="#fff"/><path d="M-32.43,-10.5 L-37.84,-10.5 A10.5,10.5 0 0 0 -37.84,10.5 L-32.43,10.5 A10.5,10.5 0 0 0 -32.43,-10.5 Z" fill="#fff" stroke="none"/><path d="M-37.84,-10.5 A10.5,10.5 0 0 0 -37.84,10.5"/><path d="M-37.84,-10.5 L-32.43,-10.5 M-37.84,10.5 L-32.43,10.5"/><circle cx="-32.43" cy="0" r="10.5" fill="#fff"/><path d="M-7.21,-8.8 L-32.43,-8.8 A8.8,8.8 0 0 0 -32.43,8.8 L-7.21,8.8 A8.8,8.8 0 0 0 -7.21,-8.8 Z" fill="#fff" stroke="none"/><path d="M-32.43,-8.8 A8.8,8.8 0 0 0 -32.43,8.8"/><path d="M-32.43,-8.8 L-7.21,-8.8 M-32.43,8.8 L-7.21,8.8"/><circle cx="-7.21" cy="0" r="8.8" fill="#fff"/><path d="M-35.15,8.37 L-9.93,8.37 M-37.6,7.12 L-12.38,7.12 M-39.55,5.17 L-14.33,5.17 M-40.8,2.72 L-15.58,2.72 M-41.23,0 L-16.01,0 M-40.8,-2.72 L-15.58,-2.72 M-39.55,-5.17 L-14.33,-5.17 M-37.6,-7.12 L-12.38,-7.12 M-35.15,-8.37 L-9.93,-8.37 "/><path d="M0,-7.4 L-7.21,-7.4 A7.4,7.4 0 0 0 -7.21,7.4 L0,7.4 A7.4,7.4 0 0 0 0,-7.4 Z" fill="#fff" stroke="none"/><path d="M-7.21,-7.4 A7.4,7.4 0 0 0 -7.21,7.4"/><path d="M-7.21,-7.4 L0,-7.4 M-7.21,7.4 L0,7.4"/><circle cx="0" cy="0" r="7.4" fill="#fff"/><circle cx="0" cy="0" r="3.2" fill="#fff"/></g>
<g transform="translate(593.5,201.1) rotate(30) scale(0.555,1)" ><path d="M0,-31 L-16.22,-31 A31,31 0 0 0 -16.22,31 L0,31 A31,31 0 0 0 0,-31 Z" fill="#fff" stroke="none"/><path d="M-17.03,27.19 L-17.03,27.19 L-18.88,30.89 L-22.32,30.39 L-23.06,26.33 L-23.06,26.33 L-25.69,29.52 L-28.93,28.27 L-28.75,24.14 L-28.75,24.14 L-32.02,26.67 L-34.9,24.73 L-33.8,20.75 L-33.8,20.75 L-37.56,22.49 L-39.94,19.96 L-37.98,16.32 L-37.98,16.32 L-42.02,17.17 L-43.78,14.18 L-41.06,11.06 L-41.06,11.06 L-45.2,11 L-46.25,7.69 L-42.9,5.26 L-42.9,5.26 L-46.92,4.28 L-47.21,0.81 L-43.4,-0.81 L-43.4,-0.81 L-47.1,-2.66 L-46.61,-6.1 L-42.54,-6.84 L-42.54,-6.84 L-45.73,-9.47 L-44.49,-12.71 L-40.36,-12.53 L-40.36,-12.53 L-42.89,-15.8 L-40.95,-18.69 L-36.97,-17.59 L-36.97,-17.59 L-38.7,-21.34 L-36.17,-23.72 L-32.53,-21.76 L-32.53,-21.76 L-33.39,-25.81 L-30.39,-27.57 L-27.28,-24.85 L-27.28,-24.85 L-27.22,-28.98 L-23.9,-30.03 L-21.47,-26.69 L-21.47,-26.69 L-20.49,-30.7 L-17.03,-30.99"/><path d="M-1.74,30.95 L-5.22,28.98 M-8.58,29.79 L-11.94,30.7 M-15,27.13 L-18.88,30.89 M-20.66,23.11 L-25.69,29.52 M-25.28,17.94 L-32.02,26.67 M-28.64,11.86 L-37.56,22.49 M-30.56,5.19 L-42.02,17.17 M-30.95,-1.74 L-45.2,11 M-29.79,-8.58 L-46.92,4.28 M-27.13,-15 L-47.1,-2.66 M-23.11,-20.66 L-45.73,-9.47 M-17.94,-25.28 L-42.89,-15.8 M-11.86,-28.64 L-38.7,-21.34 M-5.19,-30.56 L-33.39,-25.81 "/><path d="M27.2,0 L27.2,0 L30.95,1.74 L30.56,5.19 L26.52,6.05 L26.52,6.05 L29.79,8.58 L28.64,11.86 L24.51,11.8 L24.51,11.8 L27.13,15 L25.28,17.94 L21.27,16.96 L21.27,16.96 L23.11,20.66 L20.66,23.11 L16.96,21.27 L16.96,21.27 L17.94,25.28 L15,27.13 L11.8,24.51 L11.8,24.51 L11.86,28.64 L8.58,29.79 L6.05,26.52 L6.05,26.52 L5.19,30.56 L1.74,30.95 L0,27.2 L0,27.2 L-1.74,30.95 L-5.19,30.56 L-6.05,26.52 L-6.05,26.52 L-8.58,29.79 L-11.86,28.64 L-11.8,24.51 L-11.8,24.51 L-15,27.13 L-17.94,25.28 L-16.96,21.27 L-16.96,21.27 L-20.66,23.11 L-23.11,20.66 L-21.27,16.96 L-21.27,16.96 L-25.28,17.94 L-27.13,15 L-24.51,11.8 L-24.51,11.8 L-28.64,11.86 L-29.79,8.58 L-26.52,6.05 L-26.52,6.05 L-30.56,5.19 L-30.95,1.74 L-27.2,0 L-27.2,0 L-30.95,-1.74 L-30.56,-5.19 L-26.52,-6.05 L-26.52,-6.05 L-29.79,-8.58 L-28.64,-11.86 L-24.51,-11.8 L-24.51,-11.8 L-27.13,-15 L-25.28,-17.94 L-21.27,-16.96 L-21.27,-16.96 L-23.11,-20.66 L-20.66,-23.11 L-16.96,-21.27 L-16.96,-21.27 L-17.94,-25.28 L-15,-27.13 L-11.8,-24.51 L-11.8,-24.51 L-11.86,-28.64 L-8.58,-29.79 L-6.05,-26.52 L-6.05,-26.52 L-5.19,-30.56 L-1.74,-30.95 L-0,-27.2 L-0,-27.2 L1.74,-30.95 L5.19,-30.56 L6.05,-26.52 L6.05,-26.52 L8.58,-29.79 L11.86,-28.64 L11.8,-24.51 L11.8,-24.51 L15,-27.13 L17.94,-25.28 L16.96,-21.27 L16.96,-21.27 L20.66,-23.11 L23.11,-20.66 L21.27,-16.96 L21.27,-16.96 L25.28,-17.94 L27.13,-15 L24.51,-11.8 L24.51,-11.8 L28.64,-11.86 L29.79,-8.58 L26.52,-6.05 L26.52,-6.05 L30.56,-5.19 L30.95,-1.74 L27.2,-0 L27.2,-0 Z" fill="#fff"/><circle cx="0" cy="0" r="25.5" fill="none"/><circle cx="0" cy="0" r="13" fill="#fff"/><circle cx="0.8" cy="0" r="11.5" fill="none"/><circle cx="2" cy="0" r="8.5" fill="#fff"/><path d="M0.52,8.37 L4.52,8.37 M-1.46,7.77 L2.54,7.77 M-3.23,6.7 L0.77,6.7 M-4.7,5.23 L-0.7,5.23 M-5.77,3.46 L-1.77,3.46 M-6.37,1.48 L-2.37,1.48 M-6.48,-0.59 L-2.48,-0.59 M-6.08,-2.63 L-2.08,-2.63 M-5.21,-4.5 L-1.21,-4.5 M-3.9,-6.11 L0.1,-6.11 M-2.25,-7.36 L1.75,-7.36 M-0.34,-8.17 L3.66,-8.17 "/></g>
<g transform="translate(644,228.4) rotate(30) scale(0.555,1)" ><path d="M0,-15.3 L-16.22,-15.3 A15.3,15.3 0 0 0 -16.22,15.3 L0,15.3 A15.3,15.3 0 0 0 0,-15.3 Z" fill="#fff" stroke="none"/><path d="M-16.22,-15.3 A15.3,15.3 0 0 0 -16.22,15.3"/><path d="M-16.22,-15.3 L0,-15.3 M-16.22,15.3 L0,15.3"/><circle cx="0" cy="0" r="15.3" fill="#fff"/><circle cx="0" cy="0" r="14" fill="none"/><path fill-rule="evenodd" fill="#fff" d="M11,0 A11,11 0 1 0 -11,0 A11,11 0 1 0 11,0 Z M7.6,0 A7.6,7.6 0 1 0 -7.6,0 A7.6,7.6 0 1 0 7.6,0 Z"/><circle cx="0.8" cy="0" r="10" fill="none"/><circle cx="0.8" cy="0" r="8.6" fill="none"/></g>
<g transform="translate(526,321) rotate(30) scale(0.555,1)" ><path d="M0,-33 L-34.23,-33 A33,33 0 0 0 -34.23,33 L0,33 A33,33 0 0 0 0,-33 Z" fill="#fff" stroke="none"/><path d="M-34.23,-33 A33,33 0 0 0 -34.23,33"/><path d="M-34.23,-33 L0,-33 M-34.23,33 L0,33"/><path d="M-28.83,33 A33,33 0 0 1 -28.83,-33"/><path fill-rule="evenodd" fill="#fff" d="M-2.55,-35.41 L0,-32.5 L0,-32.5 L2.55,-35.41 L6.7,-34.86 L8.41,-31.39 L8.41,-31.39 L11.63,-33.54 L15.49,-31.94 L16.25,-28.15 L16.25,-28.15 L19.92,-29.39 L23.23,-26.84 L22.98,-22.98 L22.98,-22.98 L26.84,-23.23 L29.39,-19.92 L28.15,-16.25 L28.15,-16.25 L31.94,-15.49 L33.54,-11.63 L31.39,-8.41 L31.39,-8.41 L34.86,-6.7 L35.41,-2.55 L32.5,0 L32.5,0 L35.41,2.55 L34.86,6.7 L31.39,8.41 L31.39,8.41 L33.54,11.63 L31.94,15.49 L28.15,16.25 L28.15,16.25 L29.39,19.92 L26.84,23.23 L22.98,22.98 L22.98,22.98 L23.23,26.84 L19.92,29.39 L16.25,28.15 L16.25,28.15 L15.49,31.94 L11.63,33.54 L8.41,31.39 L8.41,31.39 L6.7,34.86 L2.55,35.41 L0,32.5 L0,32.5 L-2.55,35.41 L-5.64,32.01 L-8.59,31.34 L-11.47,30.41 L-14.25,29.21 L-16.9,27.76 L-19.41,26.07 L-21.75,24.15 L-23.9,22.03 L-25.84,19.71 L-27.56,17.22 L-29.04,14.59 L-30.27,11.82 L-31.24,8.96 L-31.94,6.02 L-32.36,3.02 L-32.5,0 L-32.36,-3.02 L-31.94,-6.02 L-31.24,-8.96 L-30.27,-11.82 L-29.04,-14.59 L-27.56,-17.22 L-25.84,-19.71 L-23.9,-22.03 L-21.75,-24.15 L-19.41,-26.07 L-16.9,-27.76 L-14.25,-29.21 L-11.47,-30.41 L-8.59,-31.34 L-5.64,-32.01 Z M28.5,0 A28.5,28.5 0 1 0 -28.5,0 A28.5,28.5 0 1 0 28.5,0 Z"/><circle cx="0" cy="0" r="31" fill="none"/><clipPath id="c796"><circle cx="0" cy="0" r="28.5"/></clipPath><g clip-path="url(#c796)"><path d="M-9.82,-28.48 L-29.64,-28.48 M-7.58,-28.32 L-27.4,-28.32 M-5.36,-27.97 L-25.18,-27.97 M-3.18,-27.46 L-23,-27.46 M-1.04,-26.77 L-20.86,-26.77 M1.04,-25.92 L-18.78,-25.92 M3.04,-24.91 L-16.78,-24.91 M4.96,-23.74 L-14.86,-23.74 M6.78,-22.43 L-13.04,-22.43 M8.49,-20.97 L-11.33,-20.97 M10.08,-19.39 L-9.74,-19.39 M11.54,-17.69 L-8.28,-17.69 M12.86,-15.87 L-6.96,-15.87 M14.04,-13.96 L-5.78,-13.96 M15.06,-11.96 L-4.76,-11.96 M15.92,-9.89 L-3.9,-9.89 M16.61,-7.76 L-3.21,-7.76 M17.14,-5.58 L-2.68,-5.58 M17.49,-3.36 L-2.33,-3.36 M17.67,-1.12 L-2.15,-1.12 M17.67,1.12 L-2.15,1.12 M17.49,3.36 L-2.33,3.36 M17.14,5.58 L-2.68,5.58 M16.61,7.76 L-3.21,7.76 M15.92,9.89 L-3.9,9.89 M15.06,11.96 L-4.76,11.96 M14.04,13.96 L-5.78,13.96 M12.86,15.87 L-6.96,15.87 M11.54,17.69 L-8.28,17.69 M10.08,19.39 L-9.74,19.39 M8.49,20.97 L-11.33,20.97 M6.78,22.43 L-13.04,22.43 M4.96,23.74 L-14.86,23.74 M3.04,24.91 L-16.78,24.91 M1.04,25.92 L-18.78,25.92 M-1.04,26.77 L-20.86,26.77 M-3.18,27.46 L-23,27.46 M-5.36,27.97 L-25.18,27.97 M-7.58,28.32 L-27.4,28.32 M-9.82,28.48 L-29.64,28.48 " stroke-width="0.7"/><path d="M-9.69,-28.48 L-7.46,-28.3 L-6.67,-26.17 L-6.67,-26.17 L-5.25,-27.95 L-3.07,-27.43 L-2.62,-25.2 L-2.62,-25.2 L-0.95,-26.74 L1.12,-25.88 L1.22,-23.61 L1.22,-23.61 L3.11,-24.87 L5.02,-23.7 L4.77,-21.44 L4.77,-21.44 L6.83,-22.38 L8.54,-20.93 L7.93,-18.74 L7.93,-18.74 L10.12,-19.35 L11.57,-17.64 L10.63,-15.58 L10.63,-15.58 L12.89,-15.83 L14.06,-13.93 L12.8,-12.03 L12.8,-12.03 L15.07,-11.93 L15.93,-9.86 L14.39,-8.19 L14.39,-8.19 L16.62,-7.74 L17.14,-5.56 L15.36,-4.15 L15.36,-4.15 L17.49,-3.35 L17.67,-1.12 L15.69,0 L15.69,0 L17.67,1.12 L17.49,3.35 L15.36,4.15 L15.36,4.15 L17.14,5.56 L16.62,7.74 L14.39,8.19 L14.39,8.19 L15.93,9.86 L15.07,11.93 L12.8,12.03 L12.8,12.03 L14.06,13.93 L12.89,15.83 L10.63,15.58 L10.63,15.58 L11.57,17.64 L10.12,19.35 L7.93,18.74 L7.93,18.74 L8.54,20.93 L6.83,22.38 L4.77,21.44 L4.77,21.44 L5.02,23.7 L3.11,24.87 L1.22,23.61 L1.22,23.61 L1.12,25.88 L-0.95,26.74 L-2.62,25.2 L-2.62,25.2 L-3.07,27.43 L-5.25,27.95 L-6.67,26.17 L-6.67,26.17 L-7.46,28.3 L-9.69,28.48" stroke-width="0.8"/></g><path d="M-2.48,28.39 L-4.38,24.82 L-4.38,24.82 L-7.38,27.53 L-12.04,25.83 L-12.6,21.82 L-12.6,21.82 L-16.35,23.35 L-20.15,20.15 L-19.3,16.2 L-19.3,16.2 L-23.35,16.35 L-25.83,12.04 L-23.68,8.62 L-23.68,8.62 L-27.53,7.38 L-28.39,2.48 L-25.2,0 L-25.2,0 L-28.39,-2.48 L-27.53,-7.38 L-23.68,-8.62 L-23.68,-8.62 L-25.83,-12.04 L-23.35,-16.35 L-19.3,-16.2 L-19.3,-16.2 L-20.15,-20.15 L-16.35,-23.35 L-12.6,-21.82 L-12.6,-21.82 L-12.04,-25.83 L-7.38,-27.53 L-4.38,-24.82 L-4.38,-24.82 L-2.48,-28.39" fill="none"/></g>
<g transform="translate(569.5,346.5) rotate(30) scale(0.555,1)" ><path d="M0,-13 L-12.61,-13 A13,13 0 0 0 -12.61,13 L0,13 A13,13 0 0 0 0,-13 Z" fill="#fff" stroke="none"/><path d="M-12.61,11.5 L-12.61,11.5 L-13.34,12.98 L-14.79,12.82 L-15.17,11.21 L-15.17,11.21 L-16.21,12.49 L-17.59,12.01 L-17.6,10.36 L-17.6,10.36 L-18.9,11.38 L-20.14,10.6 L-19.78,8.99 L-19.78,8.99 L-21.28,9.69 L-22.31,8.66 L-21.6,7.17 L-21.6,7.17 L-23.21,7.52 L-23.99,6.29 L-22.97,4.99 L-22.97,4.99 L-24.62,4.97 L-25.1,3.6 L-23.82,2.56 L-23.82,2.56 L-25.43,2.18 L-25.59,0.73 L-24.11,0 L-24.11,0 L-25.59,-0.73 L-25.43,-2.18 L-23.82,-2.56 L-23.82,-2.56 L-25.1,-3.6 L-24.62,-4.97 L-22.97,-4.99 L-22.97,-4.99 L-23.99,-6.29 L-23.21,-7.52 L-21.6,-7.17 L-21.6,-7.17 L-22.31,-8.66 L-21.28,-9.69 L-19.78,-8.99 L-19.78,-8.99 L-20.14,-10.6 L-18.9,-11.38 L-17.6,-10.36 L-17.6,-10.36 L-17.59,-12.01 L-16.21,-12.49 L-15.17,-11.21 L-15.17,-11.21 L-14.79,-12.82 L-13.34,-12.98 L-12.61,-11.5 L-12.61,-11.5"/><path d="M-0.73,12.98 L-13.34,12.98 M-2.18,12.82 L-14.79,12.82 M-3.6,12.49 L-16.21,12.49 M-4.97,12.01 L-17.59,12.01 M-6.29,11.38 L-18.9,11.38 M-7.52,10.6 L-20.14,10.6 M-8.66,9.69 L-21.28,9.69 M-9.69,8.66 L-22.31,8.66 M-10.6,7.52 L-23.21,7.52 M-11.38,6.29 L-23.99,6.29 M-12.01,4.97 L-24.62,4.97 M-12.49,3.6 L-25.1,3.6 M-12.82,2.18 L-25.43,2.18 M-12.98,0.73 L-25.59,0.73 M-12.98,-0.73 L-25.59,-0.73 M-12.82,-2.18 L-25.43,-2.18 M-12.49,-3.6 L-25.1,-3.6 M-12.01,-4.97 L-24.62,-4.97 M-11.38,-6.29 L-23.99,-6.29 M-10.6,-7.52 L-23.21,-7.52 M-9.69,-8.66 L-22.31,-8.66 M-8.66,-9.69 L-21.28,-9.69 M-7.52,-10.6 L-20.14,-10.6 M-6.29,-11.38 L-18.9,-11.38 M-4.97,-12.01 L-17.59,-12.01 M-3.6,-12.49 L-16.21,-12.49 M-2.18,-12.82 L-14.79,-12.82 M-0.73,-12.98 L-13.34,-12.98 "/><path d="M11.5,0 L11.5,0 L12.98,0.73 L12.82,2.18 L11.21,2.56 L11.21,2.56 L12.49,3.6 L12.01,4.97 L10.36,4.99 L10.36,4.99 L11.38,6.29 L10.6,7.52 L8.99,7.17 L8.99,7.17 L9.69,8.66 L8.66,9.69 L7.17,8.99 L7.17,8.99 L7.52,10.6 L6.29,11.38 L4.99,10.36 L4.99,10.36 L4.97,12.01 L3.6,12.49 L2.56,11.21 L2.56,11.21 L2.18,12.82 L0.73,12.98 L0,11.5 L0,11.5 L-0.73,12.98 L-2.18,12.82 L-2.56,11.21 L-2.56,11.21 L-3.6,12.49 L-4.97,12.01 L-4.99,10.36 L-4.99,10.36 L-6.29,11.38 L-7.52,10.6 L-7.17,8.99 L-7.17,8.99 L-8.66,9.69 L-9.69,8.66 L-8.99,7.17 L-8.99,7.17 L-10.6,7.52 L-11.38,6.29 L-10.36,4.99 L-10.36,4.99 L-12.01,4.97 L-12.49,3.6 L-11.21,2.56 L-11.21,2.56 L-12.82,2.18 L-12.98,0.73 L-11.5,0 L-11.5,0 L-12.98,-0.73 L-12.82,-2.18 L-11.21,-2.56 L-11.21,-2.56 L-12.49,-3.6 L-12.01,-4.97 L-10.36,-4.99 L-10.36,-4.99 L-11.38,-6.29 L-10.6,-7.52 L-8.99,-7.17 L-8.99,-7.17 L-9.69,-8.66 L-8.66,-9.69 L-7.17,-8.99 L-7.17,-8.99 L-7.52,-10.6 L-6.29,-11.38 L-4.99,-10.36 L-4.99,-10.36 L-4.97,-12.01 L-3.6,-12.49 L-2.56,-11.21 L-2.56,-11.21 L-2.18,-12.82 L-0.73,-12.98 L-0,-11.5 L-0,-11.5 L0.73,-12.98 L2.18,-12.82 L2.56,-11.21 L2.56,-11.21 L3.6,-12.49 L4.97,-12.01 L4.99,-10.36 L4.99,-10.36 L6.29,-11.38 L7.52,-10.6 L7.17,-8.99 L7.17,-8.99 L8.66,-9.69 L9.69,-8.66 L8.99,-7.17 L8.99,-7.17 L10.6,-7.52 L11.38,-6.29 L10.36,-4.99 L10.36,-4.99 L12.01,-4.97 L12.49,-3.6 L11.21,-2.56 L11.21,-2.56 L12.82,-2.18 L12.98,-0.73 L11.5,-0 L11.5,-0 Z" fill="#fff"/><circle cx="0" cy="0" r="9" fill="#fff"/></g>
<g transform="translate(595.5,361.5) rotate(30) scale(0.555,1)" ><path d="M0,-33.5 L-16.22,-33.5 A33.5,33.5 0 0 0 -16.22,33.5 L0,33.5 A33.5,33.5 0 0 0 0,-33.5 Z" fill="#fff" stroke="none"/><path d="M-16.22,-33.5 A33.5,33.5 0 0 0 -16.22,33.5"/><path d="M-16.22,-33.5 L0,-33.5 M-16.22,33.5 L0,33.5"/><path fill-rule="evenodd" fill="#fff" d="M33.5,0 A33.5,33.5 0 1 0 -33.5,0 A33.5,33.5 0 1 0 33.5,0 Z M28.5,0 A28.5,28.5 0 1 0 -28.5,0 A28.5,28.5 0 1 0 28.5,0 Z"/><circle cx="0" cy="0" r="31.8" fill="none"/><clipPath id="c720"><circle cx="0" cy="0" r="28.5"/></clipPath><g clip-path="url(#c720)"><circle cx="-10.81" cy="0" r="28.5" fill="#fff"/><path d="M0,-28.5 L-10.81,-28.5 M1.3,-28.47 L-9.51,-28.47 M2.59,-28.38 L-8.22,-28.38 M3.88,-28.23 L-6.93,-28.23 M5.16,-28.03 L-5.65,-28.03 M6.43,-27.76 L-4.38,-27.76 M7.69,-27.44 L-3.12,-27.44 M8.93,-27.06 L-1.88,-27.06 M10.15,-26.63 L-0.66,-26.63 M11.35,-26.14 L0.54,-26.14 M12.53,-25.6 L1.72,-25.6 M13.68,-25 L2.87,-25 M14.81,-24.35 L4,-24.35 M15.9,-23.65 L5.09,-23.65 M16.96,-22.9 L6.15,-22.9 M17.99,-22.11 L7.18,-22.11 M18.97,-21.27 L8.16,-21.27 M19.92,-20.38 L9.11,-20.38 M20.83,-19.45 L10.02,-19.45 M21.69,-18.48 L10.88,-18.48 M22.51,-17.48 L11.7,-17.48 M23.28,-16.44 L12.47,-16.44 M24.01,-15.36 L13.2,-15.36 M24.68,-14.25 L13.87,-14.25 M25.3,-13.11 L14.49,-13.11 M25.88,-11.95 L15.06,-11.95 M26.39,-10.76 L15.58,-10.76 M26.85,-9.54 L16.04,-9.54 M27.26,-8.31 L16.45,-8.31 M27.61,-7.06 L16.8,-7.06 M27.9,-5.8 L17.09,-5.8 M28.14,-4.52 L17.33,-4.52 M28.32,-3.24 L17.5,-3.24 M28.43,-1.94 L17.62,-1.94 M28.49,-0.65 L17.68,-0.65 M28.49,0.65 L17.68,0.65 M28.43,1.94 L17.62,1.94 M28.32,3.24 L17.5,3.24 M28.14,4.52 L17.33,4.52 M27.9,5.8 L17.09,5.8 M27.61,7.06 L16.8,7.06 M27.26,8.31 L16.45,8.31 M26.85,9.54 L16.04,9.54 M26.39,10.76 L15.58,10.76 M25.88,11.95 L15.06,11.95 M25.3,13.11 L14.49,13.11 M24.68,14.25 L13.87,14.25 M24.01,15.36 L13.2,15.36 M23.28,16.44 L12.47,16.44 M22.51,17.48 L11.7,17.48 M21.69,18.48 L10.88,18.48 M20.83,19.45 L10.02,19.45 M19.92,20.38 L9.11,20.38 M18.97,21.27 L8.16,21.27 M17.99,22.11 L7.18,22.11 M16.96,22.9 L6.15,22.9 M15.9,23.65 L5.09,23.65 M14.81,24.35 L4,24.35 M13.68,25 L2.87,25 M12.53,25.6 L1.72,25.6 M11.35,26.14 L0.54,26.14 M10.15,26.63 L-0.66,26.63 M8.93,27.06 L-1.88,27.06 M7.69,27.44 L-3.12,27.44 M6.43,27.76 L-4.38,27.76 M5.16,28.03 L-5.65,28.03 M3.88,28.23 L-6.93,28.23 M2.59,28.38 L-8.22,28.38 M1.3,28.47 L-9.51,28.47 M0,28.5 L-10.81,28.5 " stroke-width="0.6"/><path d="M-1.16,-28.49 L-0.6,-26.77 L-0.6,-26.77 L0.12,-28.44 L1.39,-28.32 L1.8,-26.56 L1.8,-26.56 L2.66,-28.15 L3.91,-27.92 L4.16,-26.13 L4.16,-26.13 L5.16,-27.64 L6.39,-27.3 L6.48,-25.49 L6.48,-25.49 L7.61,-26.9 L8.81,-26.45 L8.73,-24.64 L8.73,-24.64 L9.98,-25.95 L11.14,-25.39 L10.9,-23.6 L10.9,-23.6 L12.26,-24.79 L13.36,-24.13 L12.96,-22.37 L12.96,-22.37 L14.43,-23.43 L15.46,-22.68 L14.91,-20.95 L14.91,-20.95 L16.46,-21.88 L17.43,-21.04 L16.72,-19.37 L16.72,-19.37 L18.35,-20.15 L19.23,-19.23 L18.38,-17.63 L18.38,-17.63 L20.08,-18.26 L20.87,-17.27 L19.88,-15.75 L19.88,-15.75 L21.63,-16.23 L22.33,-15.16 L21.2,-13.75 L21.2,-13.75 L22.99,-14.06 L23.59,-12.94 L22.34,-11.63 L22.34,-11.63 L24.15,-11.79 L24.65,-10.61 L23.29,-9.42 L23.29,-9.42 L25.1,-9.41 L25.49,-8.2 L24.03,-7.13 L24.03,-7.13 L25.83,-6.96 L26.12,-5.72 L24.57,-4.79 L24.57,-4.79 L26.35,-4.46 L26.52,-3.19 L24.89,-2.4 L24.89,-2.4 L26.63,-1.92 L26.69,-0.64 L25,0 L25,0 L26.69,0.64 L26.63,1.92 L24.89,2.4 L24.89,2.4 L26.52,3.19 L26.35,4.46 L24.57,4.79 L24.57,4.79 L26.12,5.72 L25.83,6.96 L24.03,7.13 L24.03,7.13 L25.49,8.2 L25.1,9.41 L23.29,9.42 L23.29,9.42 L24.65,10.61 L24.15,11.79 L22.34,11.63 L22.34,11.63 L23.59,12.94 L22.99,14.06 L21.2,13.75 L21.2,13.75 L22.33,15.16 L21.63,16.23 L19.88,15.75 L19.88,15.75 L20.87,17.27 L20.08,18.26 L18.38,17.63 L18.38,17.63 L19.23,19.23 L18.35,20.15 L16.72,19.37 L16.72,19.37 L17.43,21.04 L16.46,21.88 L14.91,20.95 L14.91,20.95 L15.46,22.68 L14.43,23.43 L12.96,22.37 L12.96,22.37 L13.36,24.13 L12.26,24.79 L10.9,23.6 L10.9,23.6 L11.14,25.39 L9.98,25.95 L8.73,24.64 L8.73,24.64 L8.81,26.45 L7.61,26.9 L6.48,25.49 L6.48,25.49 L6.39,27.3 L5.16,27.64 L4.16,26.13 L4.16,26.13 L3.91,27.92 L2.66,28.15 L1.8,26.56 L1.8,26.56 L1.39,28.32 L0.12,28.44 L-0.6,26.77 L-0.6,26.77 L-1.16,28.49" stroke-width="0.7"/><circle cx="-14.41" cy="0" r="21.5" fill="none"/><circle cx="-13.41" cy="0" r="10.5" fill="#fff"/><ellipse cx="-3.1" cy="-11.31" rx="3.2" ry="4"/><ellipse cx="-26.67" cy="10.28" rx="3.2" ry="4"/><circle cx="0.31" cy="8.5" r="0.9"/><circle cx="-10.01" cy="16.42" r="0.9"/><circle cx="-30.39" cy="-5.81" r="0.9"/><circle cx="-17.37" cy="-16.74" r="0.9"/></g></g>
<path d="M261.9,381.7 L268.2,379 L280.7,383 L281.6,386.6 L281.1,397.3 L276.2,404.5 L276.2,407.2 L282.9,411.6 L282.5,414.3 L270.9,429.1 L263.7,426 L259.2,430.4 L251.2,432.2 L246.7,429.5 L241.4,423.3 L240.5,409.9 L245.8,403.6 L244,398.2 L252.1,386.6 L257.4,387.5 Z" fill="#fff"/>
<path d="M240.5,409.9 L247,413 L248,430 M247,413 L251.2,408 M244,398.2 L249,397 M276.2,407.2 L270,412"/>
<path d="M262,381.7 L263,386 L268,384 L280,387.5"/>
<path d="M282.5,414.3 L276,420 L269,427"/>
<ellipse cx="260.5" cy="406" rx="6.3" ry="9.2" transform="rotate(30 260.5 406)"/>
<ellipse cx="253.5" cy="397.5" rx="2.8" ry="4" transform="rotate(30 253.5 397.5)"/>
<ellipse cx="254.8" cy="423.7" rx="2.8" ry="4" transform="rotate(30 254.8 423.7)"/>
<ellipse cx="274.4" cy="396.9" rx="2.8" ry="4" transform="rotate(30 274.4 396.9)"/>
<circle cx="261" cy="389" r="0.8"/>
<circle cx="270" cy="390.5" r="0.8"/>
<circle cx="248.5" cy="407" r="0.8"/>
<circle cx="272" cy="406.5" r="0.8"/>
<circle cx="262" cy="420" r="0.8"/>
<circle cx="268.5" cy="416" r="0.8"/>
<g transform="translate(291,422) rotate(30) scale(0.555,1)" ><path stroke-width="1.15" fill-rule="evenodd" fill="#fff" d="M9.1,0 A9.1,9.1 0 1 0 -9.1,0 A9.1,9.1 0 1 0 9.1,0 Z M5.9,0 A5.9,5.9 0 1 0 -5.9,0 A5.9,5.9 0 1 0 5.9,0 Z"/><path d="M-1.17,-5.78 A5.9,5.9 0 1 1 -1.17,5.78 A5.9,5.9 0 0 0 -1.17,-5.78 Z" fill="#555" stroke-width="0.5"/></g>
<g transform="translate(312.2,431.3) rotate(30) scale(0.555,1)" stroke-width="1"><path d="M0,-11.5 L-13.15,-11.5 A11.5,11.5 0 0 0 -13.15,11.5 L0,11.5 A11.5,11.5 0 0 0 0,-11.5 Z" fill="#666" stroke="none"/><path d="M-13.45,11.5 L-15.25,11.31 L-15.74,9.66 L-15.74,9.66 L-16.99,10.84 L-18.64,10.11 L-18.6,8.39 L-18.6,8.39 L-20.15,9.12 L-21.49,7.92 L-20.92,6.29 L-20.92,6.29 L-22.63,6.51 L-23.53,4.95 L-22.49,3.58 L-22.49,3.58 L-24.18,3.27 L-24.55,1.5 L-23.14,0.52 L-23.14,0.52 L-24.65,-0.3 L-24.46,-2.1 L-22.81,-2.59 L-22.81,-2.59 L-23.99,-3.84 L-23.26,-5.49 L-21.54,-5.45 L-21.54,-5.45 L-22.28,-7 L-21.07,-8.34 L-19.45,-7.77 L-19.45,-7.77 L-19.67,-9.48 L-18.1,-10.38 L-16.74,-9.34 L-16.74,-9.34 L-16.42,-11.03 L-14.65,-11.4 L-13.68,-9.99 L-13.68,-9.99"/><path d="M-0.9,11.46 L-16.99,10.84 M-2.68,11.18 L-18.64,10.11 M-4.4,10.62 L-20.15,9.12 M-6.01,9.81 L-21.49,7.92 M-7.47,8.74 L-22.63,6.51 M-8.74,7.47 L-23.53,4.95 M-9.81,6.01 L-24.18,3.27 M-10.62,4.4 L-24.55,1.5 M-11.18,2.68 L-24.65,-0.3 M-11.46,0.9 L-24.46,-2.1 M-11.46,-0.9 L-23.99,-3.84 M-11.18,-2.68 L-23.26,-5.49 M-10.62,-4.4 L-22.28,-7 M-9.81,-6.01 L-21.07,-8.34 M-8.74,-7.47 L-19.67,-9.48 M-7.47,-8.74 L-18.1,-10.38 M-6.01,-9.81 L-16.42,-11.03 M-4.4,-10.62 L-14.65,-11.4 M-2.68,-11.18 L-12.85,-11.5 M-0.9,-11.46 L-11.06,-11.31 "/><path d="M10,0 L10,0 L11.46,0.9 L11.18,2.68 L9.51,3.09 L9.51,3.09 L10.62,4.4 L9.81,6.01 L8.09,5.88 L8.09,5.88 L8.74,7.47 L7.47,8.74 L5.88,8.09 L5.88,8.09 L6.01,9.81 L4.4,10.62 L3.09,9.51 L3.09,9.51 L2.68,11.18 L0.9,11.46 L0,10 L0,10 L-0.9,11.46 L-2.68,11.18 L-3.09,9.51 L-3.09,9.51 L-4.4,10.62 L-6.01,9.81 L-5.88,8.09 L-5.88,8.09 L-7.47,8.74 L-8.74,7.47 L-8.09,5.88 L-8.09,5.88 L-9.81,6.01 L-10.62,4.4 L-9.51,3.09 L-9.51,3.09 L-11.18,2.68 L-11.46,0.9 L-10,0 L-10,0 L-11.46,-0.9 L-11.18,-2.68 L-9.51,-3.09 L-9.51,-3.09 L-10.62,-4.4 L-9.81,-6.01 L-8.09,-5.88 L-8.09,-5.88 L-8.74,-7.47 L-7.47,-8.74 L-5.88,-8.09 L-5.88,-8.09 L-6.01,-9.81 L-4.4,-10.62 L-3.09,-9.51 L-3.09,-9.51 L-2.68,-11.18 L-0.9,-11.46 L-0,-10 L-0,-10 L0.9,-11.46 L2.68,-11.18 L3.09,-9.51 L3.09,-9.51 L4.4,-10.62 L6.01,-9.81 L5.88,-8.09 L5.88,-8.09 L7.47,-8.74 L8.74,-7.47 L8.09,-5.88 L8.09,-5.88 L9.81,-6.01 L10.62,-4.4 L9.51,-3.09 L9.51,-3.09 L11.18,-2.68 L11.46,-0.9 L10,-0 L10,-0 Z" fill="#fff"/><circle cx="0" cy="0" r="6.8" fill="#fff"/><circle cx="-2.88" cy="0" r="6.8" fill="none"/><circle cx="0" cy="0" r="3.2" fill="#fff"/></g>
<g transform="translate(322.1,439.7) rotate(30) scale(0.555,1)" ><path stroke-width="1.15" fill-rule="evenodd" fill="#fff" d="M9.1,0 A9.1,9.1 0 1 0 -9.1,0 A9.1,9.1 0 1 0 9.1,0 Z M5.9,0 A5.9,5.9 0 1 0 -5.9,0 A5.9,5.9 0 1 0 5.9,0 Z"/><path d="M-1.17,-5.78 A5.9,5.9 0 1 1 -1.17,5.78 A5.9,5.9 0 0 0 -1.17,-5.78 Z" fill="#555" stroke-width="0.5"/></g>
<g transform="translate(341.9,434.5) rotate(30) scale(0.555,1)" ><path stroke-width="1.15" fill-rule="evenodd" fill="#fff" d="M9.1,0 A9.1,9.1 0 1 0 -9.1,0 A9.1,9.1 0 1 0 9.1,0 Z M5.9,0 A5.9,5.9 0 1 0 -5.9,0 A5.9,5.9 0 1 0 5.9,0 Z"/><path d="M-1.17,-5.78 A5.9,5.9 0 1 1 -1.17,5.78 A5.9,5.9 0 0 0 -1.17,-5.78 Z" fill="#555" stroke-width="0.5"/></g>
<g transform="translate(362,444) rotate(30) scale(0.555,1)" stroke-width="1"><path d="M0,-11.5 L-13.15,-11.5 A11.5,11.5 0 0 0 -13.15,11.5 L0,11.5 A11.5,11.5 0 0 0 0,-11.5 Z" fill="#666" stroke="none"/><path d="M-13.45,11.5 L-15.25,11.31 L-15.74,9.66 L-15.74,9.66 L-16.99,10.84 L-18.64,10.11 L-18.6,8.39 L-18.6,8.39 L-20.15,9.12 L-21.49,7.92 L-20.92,6.29 L-20.92,6.29 L-22.63,6.51 L-23.53,4.95 L-22.49,3.58 L-22.49,3.58 L-24.18,3.27 L-24.55,1.5 L-23.14,0.52 L-23.14,0.52 L-24.65,-0.3 L-24.46,-2.1 L-22.81,-2.59 L-22.81,-2.59 L-23.99,-3.84 L-23.26,-5.49 L-21.54,-5.45 L-21.54,-5.45 L-22.28,-7 L-21.07,-8.34 L-19.45,-7.77 L-19.45,-7.77 L-19.67,-9.48 L-18.1,-10.38 L-16.74,-9.34 L-16.74,-9.34 L-16.42,-11.03 L-14.65,-11.4 L-13.68,-9.99 L-13.68,-9.99"/><path d="M-0.9,11.46 L-16.99,10.84 M-2.68,11.18 L-18.64,10.11 M-4.4,10.62 L-20.15,9.12 M-6.01,9.81 L-21.49,7.92 M-7.47,8.74 L-22.63,6.51 M-8.74,7.47 L-23.53,4.95 M-9.81,6.01 L-24.18,3.27 M-10.62,4.4 L-24.55,1.5 M-11.18,2.68 L-24.65,-0.3 M-11.46,0.9 L-24.46,-2.1 M-11.46,-0.9 L-23.99,-3.84 M-11.18,-2.68 L-23.26,-5.49 M-10.62,-4.4 L-22.28,-7 M-9.81,-6.01 L-21.07,-8.34 M-8.74,-7.47 L-19.67,-9.48 M-7.47,-8.74 L-18.1,-10.38 M-6.01,-9.81 L-16.42,-11.03 M-4.4,-10.62 L-14.65,-11.4 M-2.68,-11.18 L-12.85,-11.5 M-0.9,-11.46 L-11.06,-11.31 "/><path d="M10,0 L10,0 L11.46,0.9 L11.18,2.68 L9.51,3.09 L9.51,3.09 L10.62,4.4 L9.81,6.01 L8.09,5.88 L8.09,5.88 L8.74,7.47 L7.47,8.74 L5.88,8.09 L5.88,8.09 L6.01,9.81 L4.4,10.62 L3.09,9.51 L3.09,9.51 L2.68,11.18 L0.9,11.46 L0,10 L0,10 L-0.9,11.46 L-2.68,11.18 L-3.09,9.51 L-3.09,9.51 L-4.4,10.62 L-6.01,9.81 L-5.88,8.09 L-5.88,8.09 L-7.47,8.74 L-8.74,7.47 L-8.09,5.88 L-8.09,5.88 L-9.81,6.01 L-10.62,4.4 L-9.51,3.09 L-9.51,3.09 L-11.18,2.68 L-11.46,0.9 L-10,0 L-10,0 L-11.46,-0.9 L-11.18,-2.68 L-9.51,-3.09 L-9.51,-3.09 L-10.62,-4.4 L-9.81,-6.01 L-8.09,-5.88 L-8.09,-5.88 L-8.74,-7.47 L-7.47,-8.74 L-5.88,-8.09 L-5.88,-8.09 L-6.01,-9.81 L-4.4,-10.62 L-3.09,-9.51 L-3.09,-9.51 L-2.68,-11.18 L-0.9,-11.46 L-0,-10 L-0,-10 L0.9,-11.46 L2.68,-11.18 L3.09,-9.51 L3.09,-9.51 L4.4,-10.62 L6.01,-9.81 L5.88,-8.09 L5.88,-8.09 L7.47,-8.74 L8.74,-7.47 L8.09,-5.88 L8.09,-5.88 L9.81,-6.01 L10.62,-4.4 L9.51,-3.09 L9.51,-3.09 L11.18,-2.68 L11.46,-0.9 L10,-0 L10,-0 Z" fill="#fff"/><circle cx="0" cy="0" r="6.8" fill="#fff"/><circle cx="-2.88" cy="0" r="6.8" fill="none"/><circle cx="0" cy="0" r="3.2" fill="#fff"/></g>
<g transform="translate(374.9,453.4) rotate(30) scale(0.555,1)" ><path stroke-width="1.15" fill-rule="evenodd" fill="#fff" d="M9.1,0 A9.1,9.1 0 1 0 -9.1,0 A9.1,9.1 0 1 0 9.1,0 Z M5.9,0 A5.9,5.9 0 1 0 -5.9,0 A5.9,5.9 0 1 0 5.9,0 Z"/><path d="M-1.17,-5.78 A5.9,5.9 0 1 1 -1.17,5.78 A5.9,5.9 0 0 0 -1.17,-5.78 Z" fill="#555" stroke-width="0.5"/></g>
<g transform="translate(325.9,459.5) rotate(30) scale(0.555,1)" ><path stroke-width="1.15" fill-rule="evenodd" fill="#fff" d="M9.1,0 A9.1,9.1 0 1 0 -9.1,0 A9.1,9.1 0 1 0 9.1,0 Z M5.9,0 A5.9,5.9 0 1 0 -5.9,0 A5.9,5.9 0 1 0 5.9,0 Z"/><path d="M-1.17,-5.78 A5.9,5.9 0 1 1 -1.17,5.78 A5.9,5.9 0 0 0 -1.17,-5.78 Z" fill="#555" stroke-width="0.5"/></g>
<g transform="translate(344,468) rotate(30) scale(0.555,1)" stroke-width="1"><path d="M0,-11.5 L-13.15,-11.5 A11.5,11.5 0 0 0 -13.15,11.5 L0,11.5 A11.5,11.5 0 0 0 0,-11.5 Z" fill="#666" stroke="none"/><path d="M-13.45,11.5 L-15.25,11.31 L-15.74,9.66 L-15.74,9.66 L-16.99,10.84 L-18.64,10.11 L-18.6,8.39 L-18.6,8.39 L-20.15,9.12 L-21.49,7.92 L-20.92,6.29 L-20.92,6.29 L-22.63,6.51 L-23.53,4.95 L-22.49,3.58 L-22.49,3.58 L-24.18,3.27 L-24.55,1.5 L-23.14,0.52 L-23.14,0.52 L-24.65,-0.3 L-24.46,-2.1 L-22.81,-2.59 L-22.81,-2.59 L-23.99,-3.84 L-23.26,-5.49 L-21.54,-5.45 L-21.54,-5.45 L-22.28,-7 L-21.07,-8.34 L-19.45,-7.77 L-19.45,-7.77 L-19.67,-9.48 L-18.1,-10.38 L-16.74,-9.34 L-16.74,-9.34 L-16.42,-11.03 L-14.65,-11.4 L-13.68,-9.99 L-13.68,-9.99"/><path d="M-0.9,11.46 L-16.99,10.84 M-2.68,11.18 L-18.64,10.11 M-4.4,10.62 L-20.15,9.12 M-6.01,9.81 L-21.49,7.92 M-7.47,8.74 L-22.63,6.51 M-8.74,7.47 L-23.53,4.95 M-9.81,6.01 L-24.18,3.27 M-10.62,4.4 L-24.55,1.5 M-11.18,2.68 L-24.65,-0.3 M-11.46,0.9 L-24.46,-2.1 M-11.46,-0.9 L-23.99,-3.84 M-11.18,-2.68 L-23.26,-5.49 M-10.62,-4.4 L-22.28,-7 M-9.81,-6.01 L-21.07,-8.34 M-8.74,-7.47 L-19.67,-9.48 M-7.47,-8.74 L-18.1,-10.38 M-6.01,-9.81 L-16.42,-11.03 M-4.4,-10.62 L-14.65,-11.4 M-2.68,-11.18 L-12.85,-11.5 M-0.9,-11.46 L-11.06,-11.31 "/><path d="M10,0 L10,0 L11.46,0.9 L11.18,2.68 L9.51,3.09 L9.51,3.09 L10.62,4.4 L9.81,6.01 L8.09,5.88 L8.09,5.88 L8.74,7.47 L7.47,8.74 L5.88,8.09 L5.88,8.09 L6.01,9.81 L4.4,10.62 L3.09,9.51 L3.09,9.51 L2.68,11.18 L0.9,11.46 L0,10 L0,10 L-0.9,11.46 L-2.68,11.18 L-3.09,9.51 L-3.09,9.51 L-4.4,10.62 L-6.01,9.81 L-5.88,8.09 L-5.88,8.09 L-7.47,8.74 L-8.74,7.47 L-8.09,5.88 L-8.09,5.88 L-9.81,6.01 L-10.62,4.4 L-9.51,3.09 L-9.51,3.09 L-11.18,2.68 L-11.46,0.9 L-10,0 L-10,0 L-11.46,-0.9 L-11.18,-2.68 L-9.51,-3.09 L-9.51,-3.09 L-10.62,-4.4 L-9.81,-6.01 L-8.09,-5.88 L-8.09,-5.88 L-8.74,-7.47 L-7.47,-8.74 L-5.88,-8.09 L-5.88,-8.09 L-6.01,-9.81 L-4.4,-10.62 L-3.09,-9.51 L-3.09,-9.51 L-2.68,-11.18 L-0.9,-11.46 L-0,-10 L-0,-10 L0.9,-11.46 L2.68,-11.18 L3.09,-9.51 L3.09,-9.51 L4.4,-10.62 L6.01,-9.81 L5.88,-8.09 L5.88,-8.09 L7.47,-8.74 L8.74,-7.47 L8.09,-5.88 L8.09,-5.88 L9.81,-6.01 L10.62,-4.4 L9.51,-3.09 L9.51,-3.09 L11.18,-2.68 L11.46,-0.9 L10,-0 L10,-0 Z" fill="#fff"/><circle cx="0" cy="0" r="6.8" fill="#fff"/><circle cx="-2.88" cy="0" r="6.8" fill="none"/><circle cx="0" cy="0" r="3.2" fill="#fff"/></g>
<g transform="translate(357.9,477.6) rotate(30) scale(0.555,1)" ><path stroke-width="1.15" fill-rule="evenodd" fill="#fff" d="M9.1,0 A9.1,9.1 0 1 0 -9.1,0 A9.1,9.1 0 1 0 9.1,0 Z M5.9,0 A5.9,5.9 0 1 0 -5.9,0 A5.9,5.9 0 1 0 5.9,0 Z"/><path d="M-1.17,-5.78 A5.9,5.9 0 1 1 -1.17,5.78 A5.9,5.9 0 0 0 -1.17,-5.78 Z" fill="#555" stroke-width="0.5"/></g>
<path d="M391.8,455.6 L402.3,454.1 L412,461.8 L419.7,467.6 L421.6,475.8 L412.5,472.9 L411,483.5 L402.8,493.1 L410,500.3 L404.3,508.5 L391.8,511.4 L379.2,507.6 L371.5,500.8 L369.1,487.3 L374.4,476.8 L382.1,464.2 Z" fill="#fff"/>
<path d="M391.8,455.6 L390,458.5 L402,457 L410,463 M382.1,464.2 L385,464.5 M374.4,476.8 L378,476 L373,489 L374.5,500 L382,505 L392,508 L404.3,508.5 M402.8,493.1 L398,497 M411,483.5 L410,472"/>
<path d="M385,464.5 C378,475 375,490 381,500 M410,463 C413,470 414,482 407,491"/>
<ellipse cx="392.3" cy="482" rx="5.5" ry="9.8" transform="rotate(30 392.3 482)"/>
<ellipse cx="389.5" cy="466" rx="2" ry="3" transform="rotate(30 389.5 466)"/>
<ellipse cx="399" cy="466" rx="1.6" ry="2.6" transform="rotate(30 399 466)"/>
<ellipse cx="406" cy="472" rx="2" ry="3" transform="rotate(30 406 472)"/>
<ellipse cx="405" cy="484" rx="2" ry="3" transform="rotate(30 405 484)"/>
<ellipse cx="384" cy="500" rx="2" ry="3" transform="rotate(30 384 500)"/>
<ellipse cx="395" cy="500" rx="2" ry="3" transform="rotate(30 395 500)"/>
<ellipse cx="378" cy="498" rx="1.6" ry="2.4" transform="rotate(30 378 498)"/>
<g transform="translate(471.8,474.2) rotate(30) scale(0.555,1)" ><path stroke-width="1.15" fill-rule="evenodd" fill="#fff" d="M6.3,0 A6.3,6.3 0 1 0 -6.3,0 A6.3,6.3 0 1 0 6.3,0 Z M3.7,0 A3.7,3.7 0 1 0 -3.7,0 A3.7,3.7 0 1 0 3.7,0 Z"/><path d="M-1.08,-3.54 A3.7,3.7 0 1 1 -1.08,3.54 A3.7,3.7 0 0 0 -1.08,-3.54 Z" fill="#555" stroke-width="0.5"/></g>
<g transform="translate(458,488.1) rotate(30) scale(0.555,1)" ><path stroke-width="1.15" fill-rule="evenodd" fill="#fff" d="M6.3,0 A6.3,6.3 0 1 0 -6.3,0 A6.3,6.3 0 1 0 6.3,0 Z M3.7,0 A3.7,3.7 0 1 0 -3.7,0 A3.7,3.7 0 1 0 3.7,0 Z"/><path d="M-1.08,-3.54 A3.7,3.7 0 1 1 -1.08,3.54 A3.7,3.7 0 0 0 -1.08,-3.54 Z" fill="#555" stroke-width="0.5"/></g>
<g transform="translate(492.5,486.5) rotate(30) scale(0.555,1)" stroke-width="0.9"><path d="M0,-8.3 L-17.12,-8.3 A8.3,8.3 0 0 0 -17.12,8.3 L0,8.3 A8.3,8.3 0 0 0 0,-8.3 Z" fill="#888" stroke="none"/><path d="M-17.42,6.89 L-17.42,6.89 L-18.29,8.22 L-19.87,7.83 L-20.03,6.25 L-20.03,6.25 L-21.35,7.14 L-22.66,6.18 L-22.2,4.66 L-22.2,4.66 L-23.76,4.98 L-24.6,3.59 L-23.6,2.36 L-23.6,2.36 L-25.16,2.06 L-25.4,0.45 L-24.01,-0.3 L-24.01,-0.3 L-25.33,-1.17 L-24.95,-2.75 L-23.37,-2.92 L-23.37,-2.92 L-24.26,-4.23 L-23.3,-5.54 L-21.78,-5.09 L-21.78,-5.09 L-22.1,-6.64 L-20.71,-7.48 L-19.48,-6.48 L-19.48,-6.48 L-19.18,-8.04 L-17.57,-8.29"/><path d="M-0.81,8.26 L-21.35,7.14 M-2.41,7.94 L-22.66,6.18 M-3.91,7.32 L-23.76,4.98 M-5.27,6.42 L-24.6,3.59 M-6.42,5.27 L-25.16,2.06 M-7.32,3.91 L-25.4,0.45 M-7.94,2.41 L-25.33,-1.17 M-8.26,0.81 L-24.95,-2.75 M-8.26,-0.81 L-24.26,-4.23 M-7.94,-2.41 L-23.3,-5.54 M-7.32,-3.91 L-22.1,-6.64 M-6.42,-5.27 L-20.71,-7.48 M-5.27,-6.42 L-19.18,-8.04 M-3.91,-7.32 L-17.57,-8.29 M-2.41,-7.94 L-15.94,-8.22 M-0.81,-8.26 L-14.36,-7.83 "/><path d="M6.9,0 L6.9,0 L8.26,0.81 L7.94,2.41 L6.37,2.64 L6.37,2.64 L7.32,3.91 L6.42,5.27 L4.88,4.88 L4.88,4.88 L5.27,6.42 L3.91,7.32 L2.64,6.37 L2.64,6.37 L2.41,7.94 L0.81,8.26 L0,6.9 L0,6.9 L-0.81,8.26 L-2.41,7.94 L-2.64,6.37 L-2.64,6.37 L-3.91,7.32 L-5.27,6.42 L-4.88,4.88 L-4.88,4.88 L-6.42,5.27 L-7.32,3.91 L-6.37,2.64 L-6.37,2.64 L-7.94,2.41 L-8.26,0.81 L-6.9,0 L-6.9,0 L-8.26,-0.81 L-7.94,-2.41 L-6.37,-2.64 L-6.37,-2.64 L-7.32,-3.91 L-6.42,-5.27 L-4.88,-4.88 L-4.88,-4.88 L-5.27,-6.42 L-3.91,-7.32 L-2.64,-6.37 L-2.64,-6.37 L-2.41,-7.94 L-0.81,-8.26 L-0,-6.9 L-0,-6.9 L0.81,-8.26 L2.41,-7.94 L2.64,-6.37 L2.64,-6.37 L3.91,-7.32 L5.27,-6.42 L4.88,-4.88 L4.88,-4.88 L6.42,-5.27 L7.32,-3.91 L6.37,-2.64 L6.37,-2.64 L7.94,-2.41 L8.26,-0.81 L6.9,-0 L6.9,-0 Z" fill="#fff"/><circle cx="0" cy="0" r="5.2" fill="#fff"/><circle cx="-2.16" cy="0" r="5.2" fill="none"/><circle cx="0.4" cy="0" r="2.4" fill="#fff"/></g>
<g transform="translate(500.1,490.5) rotate(30) scale(0.555,1)" ><path stroke-width="1.15" fill-rule="evenodd" fill="#fff" d="M6.3,0 A6.3,6.3 0 1 0 -6.3,0 A6.3,6.3 0 1 0 6.3,0 Z M3.7,0 A3.7,3.7 0 1 0 -3.7,0 A3.7,3.7 0 1 0 3.7,0 Z"/><path d="M-1.08,-3.54 A3.7,3.7 0 1 1 -1.08,3.54 A3.7,3.7 0 0 0 -1.08,-3.54 Z" fill="#555" stroke-width="0.5"/></g>
<g transform="translate(478,498.5) rotate(30) scale(0.555,1)" stroke-width="0.9"><path d="M0,-8.3 L-17.12,-8.3 A8.3,8.3 0 0 0 -17.12,8.3 L0,8.3 A8.3,8.3 0 0 0 0,-8.3 Z" fill="#888" stroke="none"/><path d="M-17.42,6.89 L-17.42,6.89 L-18.29,8.22 L-19.87,7.83 L-20.03,6.25 L-20.03,6.25 L-21.35,7.14 L-22.66,6.18 L-22.2,4.66 L-22.2,4.66 L-23.76,4.98 L-24.6,3.59 L-23.6,2.36 L-23.6,2.36 L-25.16,2.06 L-25.4,0.45 L-24.01,-0.3 L-24.01,-0.3 L-25.33,-1.17 L-24.95,-2.75 L-23.37,-2.92 L-23.37,-2.92 L-24.26,-4.23 L-23.3,-5.54 L-21.78,-5.09 L-21.78,-5.09 L-22.1,-6.64 L-20.71,-7.48 L-19.48,-6.48 L-19.48,-6.48 L-19.18,-8.04 L-17.57,-8.29"/><path d="M-0.81,8.26 L-21.35,7.14 M-2.41,7.94 L-22.66,6.18 M-3.91,7.32 L-23.76,4.98 M-5.27,6.42 L-24.6,3.59 M-6.42,5.27 L-25.16,2.06 M-7.32,3.91 L-25.4,0.45 M-7.94,2.41 L-25.33,-1.17 M-8.26,0.81 L-24.95,-2.75 M-8.26,-0.81 L-24.26,-4.23 M-7.94,-2.41 L-23.3,-5.54 M-7.32,-3.91 L-22.1,-6.64 M-6.42,-5.27 L-20.71,-7.48 M-5.27,-6.42 L-19.18,-8.04 M-3.91,-7.32 L-17.57,-8.29 M-2.41,-7.94 L-15.94,-8.22 M-0.81,-8.26 L-14.36,-7.83 "/><path d="M6.9,0 L6.9,0 L8.26,0.81 L7.94,2.41 L6.37,2.64 L6.37,2.64 L7.32,3.91 L6.42,5.27 L4.88,4.88 L4.88,4.88 L5.27,6.42 L3.91,7.32 L2.64,6.37 L2.64,6.37 L2.41,7.94 L0.81,8.26 L0,6.9 L0,6.9 L-0.81,8.26 L-2.41,7.94 L-2.64,6.37 L-2.64,6.37 L-3.91,7.32 L-5.27,6.42 L-4.88,4.88 L-4.88,4.88 L-6.42,5.27 L-7.32,3.91 L-6.37,2.64 L-6.37,2.64 L-7.94,2.41 L-8.26,0.81 L-6.9,0 L-6.9,0 L-8.26,-0.81 L-7.94,-2.41 L-6.37,-2.64 L-6.37,-2.64 L-7.32,-3.91 L-6.42,-5.27 L-4.88,-4.88 L-4.88,-4.88 L-5.27,-6.42 L-3.91,-7.32 L-2.64,-6.37 L-2.64,-6.37 L-2.41,-7.94 L-0.81,-8.26 L-0,-6.9 L-0,-6.9 L0.81,-8.26 L2.41,-7.94 L2.64,-6.37 L2.64,-6.37 L3.91,-7.32 L5.27,-6.42 L4.88,-4.88 L4.88,-4.88 L6.42,-5.27 L7.32,-3.91 L6.37,-2.64 L6.37,-2.64 L7.94,-2.41 L8.26,-0.81 L6.9,-0 L6.9,-0 Z" fill="#fff"/><circle cx="0" cy="0" r="5.2" fill="#fff"/><circle cx="-2.16" cy="0" r="5.2" fill="none"/><circle cx="0.4" cy="0" r="2.4" fill="#fff"/></g>
<g transform="translate(486.6,504.6) rotate(30) scale(0.555,1)" ><path stroke-width="1.15" fill-rule="evenodd" fill="#fff" d="M6.3,0 A6.3,6.3 0 1 0 -6.3,0 A6.3,6.3 0 1 0 6.3,0 Z M3.7,0 A3.7,3.7 0 1 0 -3.7,0 A3.7,3.7 0 1 0 3.7,0 Z"/><path d="M-1.08,-3.54 A3.7,3.7 0 1 1 -1.08,3.54 A3.7,3.7 0 0 0 -1.08,-3.54 Z" fill="#555" stroke-width="0.5"/></g>
<g transform="translate(417,518.7) rotate(30) scale(0.555,1)" ><path stroke-width="1.15" fill-rule="evenodd" fill="#fff" d="M6.3,0 A6.3,6.3 0 1 0 -6.3,0 A6.3,6.3 0 1 0 6.3,0 Z M3.7,0 A3.7,3.7 0 1 0 -3.7,0 A3.7,3.7 0 1 0 3.7,0 Z"/><path d="M-1.08,-3.54 A3.7,3.7 0 1 1 -1.08,3.54 A3.7,3.7 0 0 0 -1.08,-3.54 Z" fill="#555" stroke-width="0.5"/></g>
<g transform="translate(436.5,528.5) rotate(30) scale(0.555,1)" stroke-width="0.9"><path d="M0,-8.3 L-17.12,-8.3 A8.3,8.3 0 0 0 -17.12,8.3 L0,8.3 A8.3,8.3 0 0 0 0,-8.3 Z" fill="#888" stroke="none"/><path d="M-17.42,6.89 L-17.42,6.89 L-18.29,8.22 L-19.87,7.83 L-20.03,6.25 L-20.03,6.25 L-21.35,7.14 L-22.66,6.18 L-22.2,4.66 L-22.2,4.66 L-23.76,4.98 L-24.6,3.59 L-23.6,2.36 L-23.6,2.36 L-25.16,2.06 L-25.4,0.45 L-24.01,-0.3 L-24.01,-0.3 L-25.33,-1.17 L-24.95,-2.75 L-23.37,-2.92 L-23.37,-2.92 L-24.26,-4.23 L-23.3,-5.54 L-21.78,-5.09 L-21.78,-5.09 L-22.1,-6.64 L-20.71,-7.48 L-19.48,-6.48 L-19.48,-6.48 L-19.18,-8.04 L-17.57,-8.29"/><path d="M-0.81,8.26 L-21.35,7.14 M-2.41,7.94 L-22.66,6.18 M-3.91,7.32 L-23.76,4.98 M-5.27,6.42 L-24.6,3.59 M-6.42,5.27 L-25.16,2.06 M-7.32,3.91 L-25.4,0.45 M-7.94,2.41 L-25.33,-1.17 M-8.26,0.81 L-24.95,-2.75 M-8.26,-0.81 L-24.26,-4.23 M-7.94,-2.41 L-23.3,-5.54 M-7.32,-3.91 L-22.1,-6.64 M-6.42,-5.27 L-20.71,-7.48 M-5.27,-6.42 L-19.18,-8.04 M-3.91,-7.32 L-17.57,-8.29 M-2.41,-7.94 L-15.94,-8.22 M-0.81,-8.26 L-14.36,-7.83 "/><path d="M6.9,0 L6.9,0 L8.26,0.81 L7.94,2.41 L6.37,2.64 L6.37,2.64 L7.32,3.91 L6.42,5.27 L4.88,4.88 L4.88,4.88 L5.27,6.42 L3.91,7.32 L2.64,6.37 L2.64,6.37 L2.41,7.94 L0.81,8.26 L0,6.9 L0,6.9 L-0.81,8.26 L-2.41,7.94 L-2.64,6.37 L-2.64,6.37 L-3.91,7.32 L-5.27,6.42 L-4.88,4.88 L-4.88,4.88 L-6.42,5.27 L-7.32,3.91 L-6.37,2.64 L-6.37,2.64 L-7.94,2.41 L-8.26,0.81 L-6.9,0 L-6.9,0 L-8.26,-0.81 L-7.94,-2.41 L-6.37,-2.64 L-6.37,-2.64 L-7.32,-3.91 L-6.42,-5.27 L-4.88,-4.88 L-4.88,-4.88 L-5.27,-6.42 L-3.91,-7.32 L-2.64,-6.37 L-2.64,-6.37 L-2.41,-7.94 L-0.81,-8.26 L-0,-6.9 L-0,-6.9 L0.81,-8.26 L2.41,-7.94 L2.64,-6.37 L2.64,-6.37 L3.91,-7.32 L5.27,-6.42 L4.88,-4.88 L4.88,-4.88 L6.42,-5.27 L7.32,-3.91 L6.37,-2.64 L6.37,-2.64 L7.94,-2.41 L8.26,-0.81 L6.9,-0 L6.9,-0 Z" fill="#fff"/><circle cx="0" cy="0" r="5.2" fill="#fff"/><circle cx="-2.16" cy="0" r="5.2" fill="none"/><circle cx="0.4" cy="0" r="2.4" fill="#fff"/></g>
<g transform="translate(443.4,534) rotate(30) scale(0.555,1)" ><path stroke-width="1.15" fill-rule="evenodd" fill="#fff" d="M6.3,0 A6.3,6.3 0 1 0 -6.3,0 A6.3,6.3 0 1 0 6.3,0 Z M3.7,0 A3.7,3.7 0 1 0 -3.7,0 A3.7,3.7 0 1 0 3.7,0 Z"/><path d="M-1.08,-3.54 A3.7,3.7 0 1 1 -1.08,3.54 A3.7,3.7 0 0 0 -1.08,-3.54 Z" fill="#555" stroke-width="0.5"/></g>
<g transform="translate(406.7,534.5) rotate(30) scale(0.555,1)" ><path stroke-width="1.15" fill-rule="evenodd" fill="#fff" d="M6.3,0 A6.3,6.3 0 1 0 -6.3,0 A6.3,6.3 0 1 0 6.3,0 Z M3.7,0 A3.7,3.7 0 1 0 -3.7,0 A3.7,3.7 0 1 0 3.7,0 Z"/><path d="M-1.08,-3.54 A3.7,3.7 0 1 1 -1.08,3.54 A3.7,3.7 0 0 0 -1.08,-3.54 Z" fill="#555" stroke-width="0.5"/></g>
<g transform="translate(428,544.8) rotate(30) scale(0.555,1)" stroke-width="0.9"><path d="M0,-8.3 L-17.12,-8.3 A8.3,8.3 0 0 0 -17.12,8.3 L0,8.3 A8.3,8.3 0 0 0 0,-8.3 Z" fill="#888" stroke="none"/><path d="M-17.42,6.89 L-17.42,6.89 L-18.29,8.22 L-19.87,7.83 L-20.03,6.25 L-20.03,6.25 L-21.35,7.14 L-22.66,6.18 L-22.2,4.66 L-22.2,4.66 L-23.76,4.98 L-24.6,3.59 L-23.6,2.36 L-23.6,2.36 L-25.16,2.06 L-25.4,0.45 L-24.01,-0.3 L-24.01,-0.3 L-25.33,-1.17 L-24.95,-2.75 L-23.37,-2.92 L-23.37,-2.92 L-24.26,-4.23 L-23.3,-5.54 L-21.78,-5.09 L-21.78,-5.09 L-22.1,-6.64 L-20.71,-7.48 L-19.48,-6.48 L-19.48,-6.48 L-19.18,-8.04 L-17.57,-8.29"/><path d="M-0.81,8.26 L-21.35,7.14 M-2.41,7.94 L-22.66,6.18 M-3.91,7.32 L-23.76,4.98 M-5.27,6.42 L-24.6,3.59 M-6.42,5.27 L-25.16,2.06 M-7.32,3.91 L-25.4,0.45 M-7.94,2.41 L-25.33,-1.17 M-8.26,0.81 L-24.95,-2.75 M-8.26,-0.81 L-24.26,-4.23 M-7.94,-2.41 L-23.3,-5.54 M-7.32,-3.91 L-22.1,-6.64 M-6.42,-5.27 L-20.71,-7.48 M-5.27,-6.42 L-19.18,-8.04 M-3.91,-7.32 L-17.57,-8.29 M-2.41,-7.94 L-15.94,-8.22 M-0.81,-8.26 L-14.36,-7.83 "/><path d="M6.9,0 L6.9,0 L8.26,0.81 L7.94,2.41 L6.37,2.64 L6.37,2.64 L7.32,3.91 L6.42,5.27 L4.88,4.88 L4.88,4.88 L5.27,6.42 L3.91,7.32 L2.64,6.37 L2.64,6.37 L2.41,7.94 L0.81,8.26 L0,6.9 L0,6.9 L-0.81,8.26 L-2.41,7.94 L-2.64,6.37 L-2.64,6.37 L-3.91,7.32 L-5.27,6.42 L-4.88,4.88 L-4.88,4.88 L-6.42,5.27 L-7.32,3.91 L-6.37,2.64 L-6.37,2.64 L-7.94,2.41 L-8.26,0.81 L-6.9,0 L-6.9,0 L-8.26,-0.81 L-7.94,-2.41 L-6.37,-2.64 L-6.37,-2.64 L-7.32,-3.91 L-6.42,-5.27 L-4.88,-4.88 L-4.88,-4.88 L-5.27,-6.42 L-3.91,-7.32 L-2.64,-6.37 L-2.64,-6.37 L-2.41,-7.94 L-0.81,-8.26 L-0,-6.9 L-0,-6.9 L0.81,-8.26 L2.41,-7.94 L2.64,-6.37 L2.64,-6.37 L3.91,-7.32 L5.27,-6.42 L4.88,-4.88 L4.88,-4.88 L6.42,-5.27 L7.32,-3.91 L6.37,-2.64 L6.37,-2.64 L7.94,-2.41 L8.26,-0.81 L6.9,-0 L6.9,-0 Z" fill="#fff"/><circle cx="0" cy="0" r="5.2" fill="#fff"/><circle cx="-2.16" cy="0" r="5.2" fill="none"/><circle cx="0.4" cy="0" r="2.4" fill="#fff"/></g>
<g transform="translate(436.2,551.9) rotate(30) scale(0.555,1)" ><path stroke-width="1.15" fill-rule="evenodd" fill="#fff" d="M6.3,0 A6.3,6.3 0 1 0 -6.3,0 A6.3,6.3 0 1 0 6.3,0 Z M3.7,0 A3.7,3.7 0 1 0 -3.7,0 A3.7,3.7 0 1 0 3.7,0 Z"/><path d="M-1.08,-3.54 A3.7,3.7 0 1 1 -1.08,3.54 A3.7,3.7 0 0 0 -1.08,-3.54 Z" fill="#555" stroke-width="0.5"/></g>
<g transform="translate(468.8,528.5) rotate(30) scale(0.555,1)" ><path stroke-width="1.15" fill-rule="evenodd" fill="#fff" d="M6.3,0 A6.3,6.3 0 1 0 -6.3,0 A6.3,6.3 0 1 0 6.3,0 Z M3.7,0 A3.7,3.7 0 1 0 -3.7,0 A3.7,3.7 0 1 0 3.7,0 Z"/><path d="M-1.08,-3.54 A3.7,3.7 0 1 1 -1.08,3.54 A3.7,3.7 0 0 0 -1.08,-3.54 Z" fill="#555" stroke-width="0.5"/></g>
<g transform="translate(488,537) rotate(30) scale(0.555,1)" stroke-width="0.9"><path d="M0,-8.3 L-17.12,-8.3 A8.3,8.3 0 0 0 -17.12,8.3 L0,8.3 A8.3,8.3 0 0 0 0,-8.3 Z" fill="#888" stroke="none"/><path d="M-17.42,6.89 L-17.42,6.89 L-18.29,8.22 L-19.87,7.83 L-20.03,6.25 L-20.03,6.25 L-21.35,7.14 L-22.66,6.18 L-22.2,4.66 L-22.2,4.66 L-23.76,4.98 L-24.6,3.59 L-23.6,2.36 L-23.6,2.36 L-25.16,2.06 L-25.4,0.45 L-24.01,-0.3 L-24.01,-0.3 L-25.33,-1.17 L-24.95,-2.75 L-23.37,-2.92 L-23.37,-2.92 L-24.26,-4.23 L-23.3,-5.54 L-21.78,-5.09 L-21.78,-5.09 L-22.1,-6.64 L-20.71,-7.48 L-19.48,-6.48 L-19.48,-6.48 L-19.18,-8.04 L-17.57,-8.29"/><path d="M-0.81,8.26 L-21.35,7.14 M-2.41,7.94 L-22.66,6.18 M-3.91,7.32 L-23.76,4.98 M-5.27,6.42 L-24.6,3.59 M-6.42,5.27 L-25.16,2.06 M-7.32,3.91 L-25.4,0.45 M-7.94,2.41 L-25.33,-1.17 M-8.26,0.81 L-24.95,-2.75 M-8.26,-0.81 L-24.26,-4.23 M-7.94,-2.41 L-23.3,-5.54 M-7.32,-3.91 L-22.1,-6.64 M-6.42,-5.27 L-20.71,-7.48 M-5.27,-6.42 L-19.18,-8.04 M-3.91,-7.32 L-17.57,-8.29 M-2.41,-7.94 L-15.94,-8.22 M-0.81,-8.26 L-14.36,-7.83 "/><path d="M6.9,0 L6.9,0 L8.26,0.81 L7.94,2.41 L6.37,2.64 L6.37,2.64 L7.32,3.91 L6.42,5.27 L4.88,4.88 L4.88,4.88 L5.27,6.42 L3.91,7.32 L2.64,6.37 L2.64,6.37 L2.41,7.94 L0.81,8.26 L0,6.9 L0,6.9 L-0.81,8.26 L-2.41,7.94 L-2.64,6.37 L-2.64,6.37 L-3.91,7.32 L-5.27,6.42 L-4.88,4.88 L-4.88,4.88 L-6.42,5.27 L-7.32,3.91 L-6.37,2.64 L-6.37,2.64 L-7.94,2.41 L-8.26,0.81 L-6.9,0 L-6.9,0 L-8.26,-0.81 L-7.94,-2.41 L-6.37,-2.64 L-6.37,-2.64 L-7.32,-3.91 L-6.42,-5.27 L-4.88,-4.88 L-4.88,-4.88 L-5.27,-6.42 L-3.91,-7.32 L-2.64,-6.37 L-2.64,-6.37 L-2.41,-7.94 L-0.81,-8.26 L-0,-6.9 L-0,-6.9 L0.81,-8.26 L2.41,-7.94 L2.64,-6.37 L2.64,-6.37 L3.91,-7.32 L5.27,-6.42 L4.88,-4.88 L4.88,-4.88 L6.42,-5.27 L7.32,-3.91 L6.37,-2.64 L6.37,-2.64 L7.94,-2.41 L8.26,-0.81 L6.9,-0 L6.9,-0 Z" fill="#fff"/><circle cx="0" cy="0" r="5.2" fill="#fff"/><circle cx="-2.16" cy="0" r="5.2" fill="none"/><circle cx="0.4" cy="0" r="2.4" fill="#fff"/></g>
<g transform="translate(497,544.6) rotate(30) scale(0.555,1)" ><path stroke-width="1.15" fill-rule="evenodd" fill="#fff" d="M6.3,0 A6.3,6.3 0 1 0 -6.3,0 A6.3,6.3 0 1 0 6.3,0 Z M3.7,0 A3.7,3.7 0 1 0 -3.7,0 A3.7,3.7 0 1 0 3.7,0 Z"/><path d="M-1.08,-3.54 A3.7,3.7 0 1 1 -1.08,3.54 A3.7,3.7 0 0 0 -1.08,-3.54 Z" fill="#555" stroke-width="0.5"/></g>
<g transform="translate(460,544) rotate(30) scale(0.555,1)" ><path stroke-width="1.15" fill-rule="evenodd" fill="#fff" d="M6.3,0 A6.3,6.3 0 1 0 -6.3,0 A6.3,6.3 0 1 0 6.3,0 Z M3.7,0 A3.7,3.7 0 1 0 -3.7,0 A3.7,3.7 0 1 0 3.7,0 Z"/><path d="M-1.08,-3.54 A3.7,3.7 0 1 1 -1.08,3.54 A3.7,3.7 0 0 0 -1.08,-3.54 Z" fill="#555" stroke-width="0.5"/></g>
<g transform="translate(479.2,553.8) rotate(30) scale(0.555,1)" stroke-width="0.9"><path d="M0,-8.3 L-17.12,-8.3 A8.3,8.3 0 0 0 -17.12,8.3 L0,8.3 A8.3,8.3 0 0 0 0,-8.3 Z" fill="#888" stroke="none"/><path d="M-17.42,6.89 L-17.42,6.89 L-18.29,8.22 L-19.87,7.83 L-20.03,6.25 L-20.03,6.25 L-21.35,7.14 L-22.66,6.18 L-22.2,4.66 L-22.2,4.66 L-23.76,4.98 L-24.6,3.59 L-23.6,2.36 L-23.6,2.36 L-25.16,2.06 L-25.4,0.45 L-24.01,-0.3 L-24.01,-0.3 L-25.33,-1.17 L-24.95,-2.75 L-23.37,-2.92 L-23.37,-2.92 L-24.26,-4.23 L-23.3,-5.54 L-21.78,-5.09 L-21.78,-5.09 L-22.1,-6.64 L-20.71,-7.48 L-19.48,-6.48 L-19.48,-6.48 L-19.18,-8.04 L-17.57,-8.29"/><path d="M-0.81,8.26 L-21.35,7.14 M-2.41,7.94 L-22.66,6.18 M-3.91,7.32 L-23.76,4.98 M-5.27,6.42 L-24.6,3.59 M-6.42,5.27 L-25.16,2.06 M-7.32,3.91 L-25.4,0.45 M-7.94,2.41 L-25.33,-1.17 M-8.26,0.81 L-24.95,-2.75 M-8.26,-0.81 L-24.26,-4.23 M-7.94,-2.41 L-23.3,-5.54 M-7.32,-3.91 L-22.1,-6.64 M-6.42,-5.27 L-20.71,-7.48 M-5.27,-6.42 L-19.18,-8.04 M-3.91,-7.32 L-17.57,-8.29 M-2.41,-7.94 L-15.94,-8.22 M-0.81,-8.26 L-14.36,-7.83 "/><path d="M6.9,0 L6.9,0 L8.26,0.81 L7.94,2.41 L6.37,2.64 L6.37,2.64 L7.32,3.91 L6.42,5.27 L4.88,4.88 L4.88,4.88 L5.27,6.42 L3.91,7.32 L2.64,6.37 L2.64,6.37 L2.41,7.94 L0.81,8.26 L0,6.9 L0,6.9 L-0.81,8.26 L-2.41,7.94 L-2.64,6.37 L-2.64,6.37 L-3.91,7.32 L-5.27,6.42 L-4.88,4.88 L-4.88,4.88 L-6.42,5.27 L-7.32,3.91 L-6.37,2.64 L-6.37,2.64 L-7.94,2.41 L-8.26,0.81 L-6.9,0 L-6.9,0 L-8.26,-0.81 L-7.94,-2.41 L-6.37,-2.64 L-6.37,-2.64 L-7.32,-3.91 L-6.42,-5.27 L-4.88,-4.88 L-4.88,-4.88 L-5.27,-6.42 L-3.91,-7.32 L-2.64,-6.37 L-2.64,-6.37 L-2.41,-7.94 L-0.81,-8.26 L-0,-6.9 L-0,-6.9 L0.81,-8.26 L2.41,-7.94 L2.64,-6.37 L2.64,-6.37 L3.91,-7.32 L5.27,-6.42 L4.88,-4.88 L4.88,-4.88 L6.42,-5.27 L7.32,-3.91 L6.37,-2.64 L6.37,-2.64 L7.94,-2.41 L8.26,-0.81 L6.9,-0 L6.9,-0 Z" fill="#fff"/><circle cx="0" cy="0" r="5.2" fill="#fff"/><circle cx="-2.16" cy="0" r="5.2" fill="none"/><circle cx="0.4" cy="0" r="2.4" fill="#fff"/></g>
<g transform="translate(488.4,560.1) rotate(30) scale(0.555,1)" ><path stroke-width="1.15" fill-rule="evenodd" fill="#fff" d="M6.3,0 A6.3,6.3 0 1 0 -6.3,0 A6.3,6.3 0 1 0 6.3,0 Z M3.7,0 A3.7,3.7 0 1 0 -3.7,0 A3.7,3.7 0 1 0 3.7,0 Z"/><path d="M-1.08,-3.54 A3.7,3.7 0 1 1 -1.08,3.54 A3.7,3.7 0 0 0 -1.08,-3.54 Z" fill="#555" stroke-width="0.5"/></g>
<g transform="translate(520,556) rotate(30) scale(0.555,1)" stroke-width="1.2"><path fill-rule="evenodd" fill="#fff" d="M10.2,0 A10.2,10.2 0 1 0 -10.2,0 A10.2,10.2 0 1 0 10.2,0 Z M6.2,0 A6.2,6.2 0 1 0 -6.2,0 A6.2,6.2 0 1 0 6.2,0 Z"/><path d="M-3.96,-10.2 A10.2,10.2 0 0 0 -3.96,10.2"/><path d="M-3.96,-10.2 L0,-10.2 M-3.96,10.2 L0,10.2"/><circle cx="0" cy="0" r="8.6" fill="none"/><circle cx="0" cy="0" r="7.2" fill="none"/><path d="M-1.98,-5.87 A6.2,6.2 0 0 1 -1.98,5.87"/></g>
<g transform="translate(540,569) rotate(30) scale(0.555,1)" ><path d="M0,-11.2 L-8.11,-11.2 A11.2,11.2 0 0 0 -8.11,11.2 L0,11.2 A11.2,11.2 0 0 0 0,-11.2 Z" fill="#fff" stroke="none"/><path d="M-8.11,-11.2 A11.2,11.2 0 0 0 -8.11,11.2"/><path d="M-8.11,-11.2 L0,-11.2 M-8.11,11.2 L0,11.2"/><path fill-rule="evenodd" fill="#fff" d="M11.2,0 A11.2,11.2 0 1 0 -11.2,0 A11.2,11.2 0 1 0 11.2,0 Z M9.3,0 A9.3,9.3 0 1 0 -9.3,0 A9.3,9.3 0 1 0 9.3,0 Z"/><path d="M-3.46,-8.05 A9.3,9.3 0 0 1 -3.46,8.05"/><path d="M1.61,-9.16 L-3.79,-9.16 M2.55,-8.94 L-2.85,-8.94 M3.46,-8.63 L-1.94,-8.63 M4.33,-8.23 L-1.07,-8.23 M5.16,-7.74 L-0.24,-7.74 M5.93,-7.16 L0.53,-7.16 M6.64,-6.51 L1.23,-6.51 M7.28,-5.79 L1.87,-5.79 M7.84,-5.01 L2.43,-5.01 M8.31,-4.17 L2.91,-4.17 M8.7,-3.29 L3.29,-3.29 M8.99,-2.38 L3.59,-2.38 M9.19,-1.44 L3.78,-1.44 M9.29,-0.48 L3.88,-0.48 M9.29,0.48 L3.88,0.48 M9.19,1.44 L3.78,1.44 M8.99,2.38 L3.59,2.38 M8.7,3.29 L3.29,3.29 M8.31,4.17 L2.91,4.17 M7.84,5.01 L2.43,5.01 M7.28,5.79 L1.87,5.79 M6.64,6.51 L1.23,6.51 M5.93,7.16 L0.53,7.16 M5.16,7.74 L-0.24,7.74 M4.33,8.23 L-1.07,8.23 M3.46,8.63 L-1.94,8.63 M2.55,8.94 L-2.85,8.94 M1.61,9.16 L-3.79,9.16 " stroke-width="0.6"/></g>
<g transform="translate(568,583) rotate(30) scale(0.555,1)" ><path d="M0,-28.4 L-4.5,-28.4 A28.4,28.4 0 0 0 -4.5,28.4 L0,28.4 A28.4,28.4 0 0 0 0,-28.4 Z" fill="#fff" stroke="none"/><path d="M0.43,27.97 A28.4,28.4 0 0 1 0.43,-27.97" stroke-width="2.2"/><path d="M-4.5,-28.4 L0,-28.4 M-4.5,28.4 L0,28.4"/><path d="M27,0 L27,0 L28.39,0.8 L28.3,2.39 L26.83,3.02 L26.83,3.02 L28.12,3.97 L27.85,5.54 L26.32,6.01 L26.32,6.01 L27.5,7.09 L27.06,8.62 L25.48,8.92 L25.48,8.92 L26.53,10.13 L25.92,11.6 L24.33,11.71 L24.33,11.71 L25.23,13.04 L24.46,14.43 L22.86,14.36 L22.86,14.36 L23.61,15.78 L22.69,17.08 L21.11,16.83 L21.11,16.83 L21.7,18.32 L20.64,19.51 L19.09,19.09 L19.09,19.09 L19.51,20.64 L18.32,21.7 L16.83,21.11 L16.83,21.11 L17.08,22.69 L15.78,23.61 L14.36,22.86 L14.36,22.86 L14.43,24.46 L13.04,25.23 L11.71,24.33 L11.71,24.33 L11.6,25.92 L10.13,26.53 L8.92,25.48 L8.92,25.48 L8.62,27.06 L7.09,27.5 L6.01,26.32 L6.01,26.32 L5.54,27.85 L3.97,28.12 L3.02,26.83 L3.02,26.83 L2.39,28.3 L0.8,28.39 L0,27 L0,27 L-0.8,28.39 L-2.39,28.3 L-3.02,26.83 L-3.02,26.83 L-3.97,28.12 L-5.54,27.85 L-6.01,26.32 L-6.01,26.32 L-7.09,27.5 L-8.62,27.06 L-8.92,25.48 L-8.92,25.48 L-10.13,26.53 L-11.6,25.92 L-11.71,24.33 L-11.71,24.33 L-13.04,25.23 L-14.43,24.46 L-14.36,22.86 L-14.36,22.86 L-15.78,23.61 L-17.08,22.69 L-16.83,21.11 L-16.83,21.11 L-18.32,21.7 L-19.51,20.64 L-19.09,19.09 L-19.09,19.09 L-20.64,19.51 L-21.7,18.32 L-21.11,16.83 L-21.11,16.83 L-22.69,17.08 L-23.61,15.78 L-22.86,14.36 L-22.86,14.36 L-24.46,14.43 L-25.23,13.04 L-24.33,11.71 L-24.33,11.71 L-25.92,11.6 L-26.53,10.13 L-25.48,8.92 L-25.48,8.92 L-27.06,8.62 L-27.5,7.09 L-26.32,6.01 L-26.32,6.01 L-27.85,5.54 L-28.12,3.97 L-26.83,3.02 L-26.83,3.02 L-28.3,2.39 L-28.39,0.8 L-27,0 L-27,0 L-28.39,-0.8 L-28.3,-2.39 L-26.83,-3.02 L-26.83,-3.02 L-28.12,-3.97 L-27.85,-5.54 L-26.32,-6.01 L-26.32,-6.01 L-27.5,-7.09 L-27.06,-8.62 L-25.48,-8.92 L-25.48,-8.92 L-26.53,-10.13 L-25.92,-11.6 L-24.33,-11.71 L-24.33,-11.71 L-25.23,-13.04 L-24.46,-14.43 L-22.86,-14.36 L-22.86,-14.36 L-23.61,-15.78 L-22.69,-17.08 L-21.11,-16.83 L-21.11,-16.83 L-21.7,-18.32 L-20.64,-19.51 L-19.09,-19.09 L-19.09,-19.09 L-19.51,-20.64 L-18.32,-21.7 L-16.83,-21.11 L-16.83,-21.11 L-17.08,-22.69 L-15.78,-23.61 L-14.36,-22.86 L-14.36,-22.86 L-14.43,-24.46 L-13.04,-25.23 L-11.71,-24.33 L-11.71,-24.33 L-11.6,-25.92 L-10.13,-26.53 L-8.92,-25.48 L-8.92,-25.48 L-8.62,-27.06 L-7.09,-27.5 L-6.01,-26.32 L-6.01,-26.32 L-5.54,-27.85 L-3.97,-28.12 L-3.02,-26.83 L-3.02,-26.83 L-2.39,-28.3 L-0.8,-28.39 L-0,-27 L-0,-27 L0.8,-28.39 L2.39,-28.3 L3.02,-26.83 L3.02,-26.83 L3.97,-28.12 L5.54,-27.85 L6.01,-26.32 L6.01,-26.32 L7.09,-27.5 L8.62,-27.06 L8.92,-25.48 L8.92,-25.48 L10.13,-26.53 L11.6,-25.92 L11.71,-24.33 L11.71,-24.33 L13.04,-25.23 L14.43,-24.46 L14.36,-22.86 L14.36,-22.86 L15.78,-23.61 L17.08,-22.69 L16.83,-21.11 L16.83,-21.11 L18.32,-21.7 L19.51,-20.64 L19.09,-19.09 L19.09,-19.09 L20.64,-19.51 L21.7,-18.32 L21.11,-16.83 L21.11,-16.83 L22.69,-17.08 L23.61,-15.78 L22.86,-14.36 L22.86,-14.36 L24.46,-14.43 L25.23,-13.04 L24.33,-11.71 L24.33,-11.71 L25.92,-11.6 L26.53,-10.13 L25.48,-8.92 L25.48,-8.92 L27.06,-8.62 L27.5,-7.09 L26.32,-6.01 L26.32,-6.01 L27.85,-5.54 L28.12,-3.97 L26.83,-3.02 L26.83,-3.02 L28.3,-2.39 L28.39,-0.8 L27,-0 L27,0 Z" fill="#fff" stroke-width="1.2"/><path d="M-4.69,26.59 A27,27 0 0 1 -4.69,-26.59" stroke-width="1.6"/><circle cx="0" cy="0" r="24.5" fill="none"/><circle cx="-0.5" cy="0" r="15.5" fill="none"/><circle cx="0" cy="0" r="13.5" fill="#fff"/><circle cx="1" cy="0" r="11.5" fill="none"/><path d="M-4,-1 L6,1 M0,-6 L2,4"/><circle cx="19.5" cy="0" r="1.5"/><circle cx="14.94" cy="12.53" r="1.5"/><circle cx="3.39" cy="19.2" r="1.5"/><circle cx="-9.75" cy="16.89" r="1.5"/><circle cx="-18.32" cy="6.67" r="1.5"/><circle cx="-18.32" cy="-6.67" r="1.5"/><circle cx="-9.75" cy="-16.89" r="1.5"/><circle cx="3.39" cy="-19.2" r="1.5"/><circle cx="14.94" cy="-12.53" r="1.5"/><circle cx="21.14" cy="7.7" r="0.8"/><circle cx="11.25" cy="19.49" r="0.8"/><circle cx="-3.91" cy="22.16" r="0.8"/><circle cx="-17.24" cy="14.46" r="0.8"/><circle cx="-22.5" cy="0" r="0.8"/><circle cx="-17.24" cy="-14.46" r="0.8"/><circle cx="-3.91" cy="-22.16" r="0.8"/><circle cx="11.25" cy="-19.49" r="0.8"/><circle cx="21.14" cy="-7.7" r="0.8"/></g>
<g transform="translate(656.3,396.4) rotate(30) scale(0.555,1)" ><path d="M-48.65,-9.8 L-57.66,-9.8 A9.8,9.8 0 0 0 -57.66,9.8 L-48.65,9.8 A9.8,9.8 0 0 0 -48.65,-9.8 Z" fill="#fff" stroke="none"/><path d="M-57.66,8.6 L-57.66,8.6 L-58.62,9.75 L-60.5,9.38 L-60.95,7.95 L-60.95,7.95 L-62.28,8.64 L-63.87,7.58 L-63.74,6.08 L-63.74,6.08 L-65.23,6.22 L-66.3,4.62 L-65.6,3.29 L-65.6,3.29 L-67.04,2.84 L-67.41,0.96 L-66.26,0 L-66.26,0 L-67.41,-0.96 L-67.04,-2.84 L-65.6,-3.29 L-65.6,-3.29 L-66.3,-4.62 L-65.23,-6.22 L-63.74,-6.08 L-63.74,-6.08 L-63.87,-7.58 L-62.28,-8.64 L-60.95,-7.95 L-60.95,-7.95 L-60.5,-9.38 L-58.62,-9.75 L-57.66,-8.6 L-57.66,-8.6"/><path d="M-49.61,9.75 L-58.62,9.75 M-51.49,9.38 L-60.5,9.38 M-53.27,8.64 L-62.28,8.64 M-54.87,7.58 L-63.87,7.58 M-56.22,6.22 L-65.23,6.22 M-57.29,4.62 L-66.3,4.62 M-58.03,2.84 L-67.04,2.84 M-58.4,0.96 L-67.41,0.96 M-58.4,-0.96 L-67.41,-0.96 M-58.03,-2.84 L-67.04,-2.84 M-57.29,-4.62 L-66.3,-4.62 M-56.22,-6.22 L-65.23,-6.22 M-54.87,-7.58 L-63.87,-7.58 M-53.27,-8.64 L-62.28,-8.64 M-51.49,-9.38 L-60.5,-9.38 M-49.61,-9.75 L-58.62,-9.75 "/><path d="M-40.05,0 L-40.05,0 L-38.9,0.96 L-39.27,2.84 L-40.7,3.29 L-40.7,3.29 L-40.01,4.62 L-41.07,6.22 L-42.57,6.08 L-42.57,6.08 L-42.43,7.58 L-44.03,8.64 L-45.36,7.95 L-45.36,7.95 L-45.8,9.38 L-47.69,9.75 L-48.65,8.6 L-48.65,8.6 L-49.61,9.75 L-51.49,9.38 L-51.94,7.95 L-51.94,7.95 L-53.27,8.64 L-54.87,7.58 L-54.73,6.08 L-54.73,6.08 L-56.22,6.22 L-57.29,4.62 L-56.59,3.29 L-56.59,3.29 L-58.03,2.84 L-58.4,0.96 L-57.25,0 L-57.25,0 L-58.4,-0.96 L-58.03,-2.84 L-56.59,-3.29 L-56.59,-3.29 L-57.29,-4.62 L-56.22,-6.22 L-54.73,-6.08 L-54.73,-6.08 L-54.87,-7.58 L-53.27,-8.64 L-51.94,-7.95 L-51.94,-7.95 L-51.49,-9.38 L-49.61,-9.75 L-48.65,-8.6 L-48.65,-8.6 L-47.69,-9.75 L-45.8,-9.38 L-45.36,-7.95 L-45.36,-7.95 L-44.03,-8.64 L-42.43,-7.58 L-42.57,-6.08 L-42.57,-6.08 L-41.07,-6.22 L-40.01,-4.62 L-40.7,-3.29 L-40.7,-3.29 L-39.27,-2.84 L-38.9,-0.96 L-40.05,-0 L-40.05,-0 Z" fill="#fff"/><path d="M-21.62,-9.2 L-48.65,-9.2 A9.2,9.2 0 0 0 -48.65,9.2 L-21.62,9.2 A9.2,9.2 0 0 0 -21.62,-9.2 Z" fill="#fff" stroke="none"/><path d="M-48.65,-9.2 A9.2,9.2 0 0 0 -48.65,9.2"/><path d="M-48.65,-9.2 L-21.62,-9.2 M-48.65,9.2 L-21.62,9.2"/><circle cx="-21.62" cy="0" r="9.2" fill="#fff"/><path d="M0,-12 L-21.62,-12 A12,12 0 0 0 -21.62,12 L0,12 A12,12 0 0 0 0,-12 Z" fill="#fff" stroke="none"/><path d="M-22.67,11.95 L-23.46,10.44 L-23.46,10.44 L-24.73,11.59 L-26.69,10.88 L-26.92,9.18 L-26.92,9.18 L-28.5,9.83 L-30.11,8.49 L-29.74,6.81 L-29.74,6.81 L-31.45,6.88 L-32.5,5.07 L-31.58,3.63 L-31.58,3.63 L-33.21,3.11 L-33.58,1.05 L-32.22,0 L-32.22,0 L-33.58,-1.05 L-33.21,-3.11 L-31.58,-3.63 L-31.58,-3.63 L-32.5,-5.07 L-31.45,-6.88 L-29.74,-6.81 L-29.74,-6.81 L-30.11,-8.49 L-28.5,-9.83 L-26.92,-9.18 L-26.92,-9.18 L-26.69,-10.88 L-24.73,-11.59 L-23.46,-10.44 L-23.46,-10.44 L-22.67,-11.95"/><path d="M-1.05,11.95 L-22.67,11.95 M-3.11,11.59 L-24.73,11.59 M-5.07,10.88 L-26.69,10.88 M-6.88,9.83 L-28.5,9.83 M-8.49,8.49 L-30.11,8.49 M-9.83,6.88 L-31.45,6.88 M-10.88,5.07 L-32.5,5.07 M-11.59,3.11 L-33.21,3.11 M-11.95,1.05 L-33.58,1.05 M-11.95,-1.05 L-33.58,-1.05 M-11.59,-3.11 L-33.21,-3.11 M-10.88,-5.07 L-32.5,-5.07 M-9.83,-6.88 L-31.45,-6.88 M-8.49,-8.49 L-30.11,-8.49 M-6.88,-9.83 L-28.5,-9.83 M-5.07,-10.88 L-26.69,-10.88 M-3.11,-11.59 L-24.73,-11.59 M-1.05,-11.95 L-22.67,-11.95 "/><path d="M10.6,0 L10.6,0 L11.95,1.05 L11.59,3.11 L9.96,3.63 L9.96,3.63 L10.88,5.07 L9.83,6.88 L8.12,6.81 L8.12,6.81 L8.49,8.49 L6.88,9.83 L5.3,9.18 L5.3,9.18 L5.07,10.88 L3.11,11.59 L1.84,10.44 L1.84,10.44 L1.05,11.95 L-1.05,11.95 L-1.84,10.44 L-1.84,10.44 L-3.11,11.59 L-5.07,10.88 L-5.3,9.18 L-5.3,9.18 L-6.88,9.83 L-8.49,8.49 L-8.12,6.81 L-8.12,6.81 L-9.83,6.88 L-10.88,5.07 L-9.96,3.63 L-9.96,3.63 L-11.59,3.11 L-11.95,1.05 L-10.6,0 L-10.6,0 L-11.95,-1.05 L-11.59,-3.11 L-9.96,-3.63 L-9.96,-3.63 L-10.88,-5.07 L-9.83,-6.88 L-8.12,-6.81 L-8.12,-6.81 L-8.49,-8.49 L-6.88,-9.83 L-5.3,-9.18 L-5.3,-9.18 L-5.07,-10.88 L-3.11,-11.59 L-1.84,-10.44 L-1.84,-10.44 L-1.05,-11.95 L1.05,-11.95 L1.84,-10.44 L1.84,-10.44 L3.11,-11.59 L5.07,-10.88 L5.3,-9.18 L5.3,-9.18 L6.88,-9.83 L8.49,-8.49 L8.12,-6.81 L8.12,-6.81 L9.83,-6.88 L10.88,-5.07 L9.96,-3.63 L9.96,-3.63 L11.59,-3.11 L11.95,-1.05 L10.6,-0 L10.6,-0 Z" fill="#fff"/><circle cx="0" cy="0" r="8.5" fill="#fff"/><path d="M-3.6,-7.7 A8.5,8.5 0 0 1 -3.6,7.7"/></g>
<g transform="translate(677.5,409.6) rotate(30) scale(0.555,1)" ><path fill-rule="evenodd" fill="#fff" d="M20.5,0 A20.5,20.5 0 1 0 -20.5,0 A20.5,20.5 0 1 0 20.5,0 Z M18,0 A18,18 0 1 0 -18,0 A18,18 0 1 0 18,0 Z"/><path d="M-2.34,-20.5 A20.5,20.5 0 0 0 -2.34,20.5"/><path d="M-1.17,-17.96 A18,18 0 0 1 -1.17,17.96"/><g transform="translate(-14.75,-14.24) rotate(224)"><path d="M-1,-2.5 L6.31,-2.5 L6.31,2.5 L-1,2.5" fill="#fff"/></g><g transform="translate(19.5,-6.33) rotate(-18)"><path d="M-1,-2.5 L6.31,-2.5 L6.31,2.5 L-1,2.5" fill="#fff"/></g><g transform="translate(-7.01,19.26) rotate(110)"><path d="M-1,-2.5 L6.31,-2.5 L6.31,2.5 L-1,2.5" fill="#fff"/></g></g>
<g transform="translate(708.8,426.6) rotate(30) scale(0.555,1)" stroke-width="1.1"><path fill-rule="evenodd" fill="#fff" d="M10.9,0 A10.9,10.9 0 1 0 -10.9,0 A10.9,10.9 0 1 0 10.9,0 Z M7.2,0 A7.2,7.2 0 1 0 -7.2,0 A7.2,7.2 0 1 0 7.2,0 Z"/><path d="M-3.96,-10.9 A10.9,10.9 0 0 0 -3.96,10.9"/><path d="M-3.96,-10.9 L0,-10.9 M-3.96,10.9 L0,10.9"/><circle cx="0" cy="0" r="9.2" fill="none"/><path d="M-1.98,-6.92 A7.2,7.2 0 0 1 -1.98,6.92"/></g>
<g transform="translate(763.5,458.8) rotate(30) scale(0.555,1)" ><path d="M-43.24,-34.5 L-55.86,-34.5 A34.5,34.5 0 0 0 -55.86,34.5 L-43.24,34.5 A34.5,34.5 0 0 0 -43.24,-34.5 Z" fill="#fff" stroke="none"/><path d="M-55.86,32 L-55.86,32 L-57.55,34.46 L-60.92,34.13 L-62.1,31.39 L-62.1,31.39 L-64.24,33.47 L-67.48,32.48 L-68.1,29.56 L-68.1,29.56 L-70.61,31.19 L-73.59,29.59 L-73.63,26.61 L-73.63,26.61 L-76.41,27.71 L-79.02,25.56 L-78.48,22.63 L-78.48,22.63 L-81.42,23.17 L-83.57,20.55 L-82.46,17.78 L-82.46,17.78 L-85.45,17.74 L-87.04,14.75 L-85.42,12.25 L-85.42,12.25 L-88.34,11.62 L-89.32,8.38 L-87.24,6.24 L-87.24,6.24 L-89.98,5.06 L-90.31,1.69 L-87.86,0 L-87.86,0 L-90.31,-1.69 L-89.98,-5.06 L-87.24,-6.24 L-87.24,-6.24 L-89.32,-8.38 L-88.34,-11.62 L-85.42,-12.25 L-85.42,-12.25 L-87.04,-14.75 L-85.45,-17.74 L-82.46,-17.78 L-82.46,-17.78 L-83.57,-20.55 L-81.42,-23.17 L-78.48,-22.63 L-78.48,-22.63 L-79.02,-25.56 L-76.41,-27.71 L-73.63,-26.61 L-73.63,-26.61 L-73.59,-29.59 L-70.61,-31.19 L-68.1,-29.56 L-68.1,-29.56 L-67.48,-32.48 L-64.24,-33.47 L-62.1,-31.39 L-62.1,-31.39 L-60.92,-34.13 L-57.55,-34.46 L-55.86,-32 L-55.86,-32"/><path d="M-44.94,34.46 L-57.55,34.46 M-48.31,34.13 L-60.92,34.13 M-51.63,33.47 L-64.24,33.47 M-54.87,32.48 L-67.48,32.48 M-57.99,31.19 L-70.61,31.19 M-60.98,29.59 L-73.59,29.59 M-63.79,27.71 L-76.41,27.71 M-66.41,25.56 L-79.02,25.56 M-68.81,23.17 L-81.42,23.17 M-70.95,20.55 L-83.57,20.55 M-72.83,17.74 L-85.45,17.74 M-74.43,14.75 L-87.04,14.75 M-75.73,11.62 L-88.34,11.62 M-76.71,8.38 L-89.32,8.38 M-77.37,5.06 L-89.98,5.06 M-77.7,1.69 L-90.31,1.69 M-77.7,-1.69 L-90.31,-1.69 M-77.37,-5.06 L-89.98,-5.06 M-76.71,-8.38 L-89.32,-8.38 M-75.73,-11.62 L-88.34,-11.62 M-74.43,-14.75 L-87.04,-14.75 M-72.83,-17.74 L-85.45,-17.74 M-70.95,-20.55 L-83.57,-20.55 M-68.81,-23.17 L-81.42,-23.17 M-66.41,-25.56 L-79.02,-25.56 M-63.79,-27.71 L-76.41,-27.71 M-60.98,-29.59 L-73.59,-29.59 M-57.99,-31.19 L-70.61,-31.19 M-54.87,-32.48 L-67.48,-32.48 M-51.63,-33.47 L-64.24,-33.47 M-48.31,-34.13 L-60.92,-34.13 M-44.94,-34.46 L-57.55,-34.46 "/><path d="M-11.24,0 L-11.24,0 L-8.78,1.69 L-9.12,5.06 L-11.86,6.24 L-11.86,6.24 L-9.78,8.38 L-10.76,11.62 L-13.68,12.25 L-13.68,12.25 L-12.06,14.75 L-13.65,17.74 L-16.64,17.78 L-16.64,17.78 L-15.53,20.55 L-17.68,23.17 L-20.62,22.63 L-20.62,22.63 L-20.07,25.56 L-22.69,27.71 L-25.46,26.61 L-25.46,26.61 L-25.51,29.59 L-28.49,31.19 L-31,29.56 L-31,29.56 L-31.62,32.48 L-34.86,33.47 L-37,31.39 L-37,31.39 L-38.18,34.13 L-41.55,34.46 L-43.24,32 L-43.24,32 L-44.94,34.46 L-48.31,34.13 L-49.49,31.39 L-49.49,31.39 L-51.63,33.47 L-54.87,32.48 L-55.49,29.56 L-55.49,29.56 L-57.99,31.19 L-60.98,29.59 L-61.02,26.61 L-61.02,26.61 L-63.79,27.71 L-66.41,25.56 L-65.87,22.63 L-65.87,22.63 L-68.81,23.17 L-70.95,20.55 L-69.85,17.78 L-69.85,17.78 L-72.83,17.74 L-74.43,14.75 L-72.81,12.25 L-72.81,12.25 L-75.73,11.62 L-76.71,8.38 L-74.63,6.24 L-74.63,6.24 L-77.37,5.06 L-77.7,1.69 L-75.24,0 L-75.24,0 L-77.7,-1.69 L-77.37,-5.06 L-74.63,-6.24 L-74.63,-6.24 L-76.71,-8.38 L-75.73,-11.62 L-72.81,-12.25 L-72.81,-12.25 L-74.43,-14.75 L-72.83,-17.74 L-69.85,-17.78 L-69.85,-17.78 L-70.95,-20.55 L-68.81,-23.17 L-65.87,-22.63 L-65.87,-22.63 L-66.41,-25.56 L-63.79,-27.71 L-61.02,-26.61 L-61.02,-26.61 L-60.98,-29.59 L-57.99,-31.19 L-55.49,-29.56 L-55.49,-29.56 L-54.87,-32.48 L-51.63,-33.47 L-49.49,-31.39 L-49.49,-31.39 L-48.31,-34.13 L-44.94,-34.46 L-43.24,-32 L-43.24,-32 L-41.55,-34.46 L-38.18,-34.13 L-37,-31.39 L-37,-31.39 L-34.86,-33.47 L-31.62,-32.48 L-31,-29.56 L-31,-29.56 L-28.49,-31.19 L-25.51,-29.59 L-25.46,-26.61 L-25.46,-26.61 L-22.69,-27.71 L-20.07,-25.56 L-20.62,-22.63 L-20.62,-22.63 L-17.68,-23.17 L-15.53,-20.55 L-16.64,-17.78 L-16.64,-17.78 L-13.65,-17.74 L-12.06,-14.75 L-13.68,-12.25 L-13.68,-12.25 L-10.76,-11.62 L-9.78,-8.38 L-11.86,-6.24 L-11.86,-6.24 L-9.12,-5.06 L-8.78,-1.69 L-11.24,-0 L-11.24,-0 Z" fill="#fff"/><path d="M0,-31.5 L-43.24,-31.5 A31.5,31.5 0 0 0 -43.24,31.5 L0,31.5 A31.5,31.5 0 0 0 0,-31.5 Z" fill="#fff" stroke="none"/><path d="M-43.24,-31.5 L0,-31.5 M-43.24,31.5 L0,31.5"/><path d="M-43.24,31.5 A31.5,31.5 0 0 1 -43.24,-31.5"/><ellipse cx="-40.41" cy="-10.77" rx="4.32" ry="1.9"/><ellipse cx="-49.3" cy="-22.27" rx="4.32" ry="1.9"/><ellipse cx="-21.58" cy="-29.6" rx="4.32" ry="1.9"/><ellipse cx="-54.31" cy="15.75" rx="4.32" ry="1.9"/><ellipse cx="-31.06" cy="24.13" rx="4.32" ry="1.9"/><ellipse cx="-40.34" cy="28.55" rx="4.32" ry="1.9"/><path fill-rule="evenodd" fill="#fff" d="M31.5,0 A31.5,31.5 0 1 0 -31.5,0 A31.5,31.5 0 1 0 31.5,0 Z M27,0 A27,27 0 1 0 -27,0 A27,27 0 1 0 27,0 Z"/><circle cx="0" cy="0" r="29.8" fill="none"/><circle cx="0" cy="0" r="28.3" fill="none"/><clipPath id="c790"><circle cx="0" cy="0" r="27"/></clipPath><g clip-path="url(#c790)"><path d="M-21.07,-26.9 L-39.09,-26.9 M-19.22,-26.67 L-37.24,-26.67 M-17.39,-26.32 L-35.41,-26.32 M-15.59,-25.84 L-33.61,-25.84 M-13.83,-25.24 L-31.85,-25.24 M-12.11,-24.52 L-30.13,-24.52 M-10.45,-23.68 L-28.47,-23.68 M-8.85,-22.73 L-26.87,-22.73 M-7.31,-21.67 L-25.33,-21.67 M-5.86,-20.51 L-23.88,-20.51 M-4.49,-19.25 L-22.51,-19.25 M-3.21,-17.89 L-21.22,-17.89 M-2.02,-16.46 L-20.04,-16.46 M-0.94,-14.94 L-18.95,-14.94 M0.04,-13.36 L-17.98,-13.36 M0.91,-11.71 L-17.11,-11.71 M1.66,-10 L-16.36,-10 M2.29,-8.25 L-15.73,-8.25 M2.79,-6.46 L-15.23,-6.46 M3.18,-4.63 L-14.84,-4.63 M3.43,-2.79 L-14.59,-2.79 M3.56,-0.93 L-14.46,-0.93 M3.56,0.93 L-14.46,0.93 M3.43,2.79 L-14.59,2.79 M3.18,4.63 L-14.84,4.63 M2.79,6.46 L-15.23,6.46 M2.29,8.25 L-15.73,8.25 M1.66,10 L-16.36,10 M0.91,11.71 L-17.11,11.71 M0.04,13.36 L-17.98,13.36 M-0.94,14.94 L-18.95,14.94 M-2.02,16.46 L-20.04,16.46 M-3.21,17.89 L-21.22,17.89 M-4.49,19.25 L-22.51,19.25 M-5.86,20.51 L-23.88,20.51 M-7.31,21.67 L-25.33,21.67 M-8.85,22.73 L-26.87,22.73 M-10.45,23.68 L-28.47,23.68 M-12.11,24.52 L-30.13,24.52 M-13.83,25.24 L-31.85,25.24 M-15.59,25.84 L-33.61,25.84 M-17.39,26.32 L-35.41,26.32 M-19.22,26.67 L-37.24,26.67 M-21.07,26.9 L-39.09,26.9 " stroke-width="0.7"/><path d="M-21.07,-26.9 A27,27 0 0 1 -21.07,26.9 M-39.09,-26.9 A27,27 0 0 1 -39.09,26.9"/><ellipse cx="12.57" cy="-13.5" rx="3.96" ry="1.8"/><ellipse cx="12.57" cy="13.5" rx="3.96" ry="1.8"/><ellipse cx="-3.38" cy="25.37" rx="3.96" ry="1.8"/></g></g>
<g transform="translate(799.7,475.7) rotate(30) scale(0.555,1)" ><path d="M-10.84,-29.79 A31.7,31.7 0 1 1 -24.28,-20.38" stroke-width="1.3"/><path d="M-10.5,-28.85 A30.7,30.7 0 1 1 -23.52,-19.73" stroke-width="0.8"/></g>
<g transform="translate(649.5,627.5) rotate(30) scale(0.555,1)" ><path d="M-72.07,-9 L-81.08,-9 A9,9 0 0 0 -81.08,9 L-72.07,9 A9,9 0 0 0 -72.07,-9 Z" fill="#fff" stroke="none"/><path d="M-81.08,7.8 L-81.08,7.8 L-81.96,8.96 L-83.69,8.61 L-84.07,7.21 L-84.07,7.21 L-85.32,7.94 L-86.79,6.96 L-86.6,5.52 L-86.6,5.52 L-88.04,5.71 L-89.02,4.24 L-88.29,2.98 L-88.29,2.98 L-89.69,2.61 L-90.04,0.88 L-88.88,0 L-88.88,0 L-90.04,-0.88 L-89.69,-2.61 L-88.29,-2.98 L-88.29,-2.98 L-89.02,-4.24 L-88.04,-5.71 L-86.6,-5.52 L-86.6,-5.52 L-86.79,-6.96 L-85.32,-7.94 L-84.07,-7.21 L-84.07,-7.21 L-83.69,-8.61 L-81.96,-8.96 L-81.08,-7.8 L-81.08,-7.8"/><path d="M-72.95,8.96 L-81.96,8.96 M-74.68,8.61 L-83.69,8.61 M-76.31,7.94 L-85.32,7.94 M-77.78,6.96 L-86.79,6.96 M-79.03,5.71 L-88.04,5.71 M-80.01,4.24 L-89.02,4.24 M-80.68,2.61 L-89.69,2.61 M-81.03,0.88 L-90.04,0.88 M-81.03,-0.88 L-90.04,-0.88 M-80.68,-2.61 L-89.69,-2.61 M-80.01,-4.24 L-89.02,-4.24 M-79.03,-5.71 L-88.04,-5.71 M-77.78,-6.96 L-86.79,-6.96 M-76.31,-7.94 L-85.32,-7.94 M-74.68,-8.61 L-83.69,-8.61 M-72.95,-8.96 L-81.96,-8.96 "/><path d="M-64.27,0 L-64.27,0 L-63.12,0.88 L-63.46,2.61 L-64.87,2.98 L-64.87,2.98 L-64.13,4.24 L-65.11,5.71 L-66.56,5.52 L-66.56,5.52 L-66.36,6.96 L-67.83,7.94 L-69.09,7.21 L-69.09,7.21 L-69.46,8.61 L-71.19,8.96 L-72.07,7.8 L-72.07,7.8 L-72.95,8.96 L-74.68,8.61 L-75.06,7.21 L-75.06,7.21 L-76.31,7.94 L-77.78,6.96 L-77.59,5.52 L-77.59,5.52 L-79.03,5.71 L-80.01,4.24 L-79.28,2.98 L-79.28,2.98 L-80.68,2.61 L-81.03,0.88 L-79.87,0 L-79.87,0 L-81.03,-0.88 L-80.68,-2.61 L-79.28,-2.98 L-79.28,-2.98 L-80.01,-4.24 L-79.03,-5.71 L-77.59,-5.52 L-77.59,-5.52 L-77.78,-6.96 L-76.31,-7.94 L-75.06,-7.21 L-75.06,-7.21 L-74.68,-8.61 L-72.95,-8.96 L-72.07,-7.8 L-72.07,-7.8 L-71.19,-8.96 L-69.46,-8.61 L-69.09,-7.21 L-69.09,-7.21 L-67.83,-7.94 L-66.36,-6.96 L-66.56,-5.52 L-66.56,-5.52 L-65.11,-5.71 L-64.13,-4.24 L-64.87,-2.98 L-64.87,-2.98 L-63.46,-2.61 L-63.12,-0.88 L-64.27,-0 L-64.27,-0 Z" fill="#fff"/><path d="M-21.62,-8.6 L-72.07,-8.6 A8.6,8.6 0 0 0 -72.07,8.6 L-21.62,8.6 A8.6,8.6 0 0 0 -21.62,-8.6 Z" fill="#fff" stroke="none"/><path d="M-72.07,-8.6 A8.6,8.6 0 0 0 -72.07,8.6"/><path d="M-72.07,-8.6 L-21.62,-8.6 M-72.07,8.6 L-21.62,8.6"/><circle cx="-21.62" cy="0" r="8.6" fill="#fff"/><path d="M-0,-12 L-21.62,-12 A12,12 0 0 0 -21.62,12 L-0,12 A12,12 0 0 0 -0,-12 Z" fill="#fff" stroke="none"/><path d="M-22.67,11.95 L-23.44,10.34 L-23.44,10.34 L-24.73,11.59 L-26.69,10.88 L-26.87,9.09 L-26.87,9.09 L-28.5,9.83 L-30.11,8.49 L-29.67,6.75 L-29.67,6.75 L-31.45,6.88 L-32.5,5.07 L-31.49,3.59 L-31.49,3.59 L-33.21,3.11 L-33.58,1.05 L-32.12,0 L-32.12,0 L-33.58,-1.05 L-33.21,-3.11 L-31.49,-3.59 L-31.49,-3.59 L-32.5,-5.07 L-31.45,-6.88 L-29.67,-6.75 L-29.67,-6.75 L-30.11,-8.49 L-28.5,-9.83 L-26.87,-9.09 L-26.87,-9.09 L-26.69,-10.88 L-24.73,-11.59 L-23.44,-10.34 L-23.44,-10.34 L-22.67,-11.95"/><path d="M-1.05,11.95 L-22.67,11.95 M-3.11,11.59 L-24.73,11.59 M-5.07,10.88 L-26.69,10.88 M-6.88,9.83 L-28.5,9.83 M-8.49,8.49 L-30.11,8.49 M-9.83,6.88 L-31.45,6.88 M-10.88,5.07 L-32.5,5.07 M-11.59,3.11 L-33.21,3.11 M-11.95,1.05 L-33.58,1.05 M-11.95,-1.05 L-33.58,-1.05 M-11.59,-3.11 L-33.21,-3.11 M-10.88,-5.07 L-32.5,-5.07 M-9.83,-6.88 L-31.45,-6.88 M-8.49,-8.49 L-30.11,-8.49 M-6.88,-9.83 L-28.5,-9.83 M-5.07,-10.88 L-26.69,-10.88 M-3.11,-11.59 L-24.73,-11.59 M-1.05,-11.95 L-22.67,-11.95 "/><path d="M10.5,0 L10.5,0 L11.95,1.05 L11.59,3.11 L9.87,3.59 L9.87,3.59 L10.88,5.07 L9.83,6.88 L8.04,6.75 L8.04,6.75 L8.49,8.49 L6.88,9.83 L5.25,9.09 L5.25,9.09 L5.07,10.88 L3.11,11.59 L1.82,10.34 L1.82,10.34 L1.05,11.95 L-1.05,11.95 L-1.82,10.34 L-1.82,10.34 L-3.11,11.59 L-5.07,10.88 L-5.25,9.09 L-5.25,9.09 L-6.88,9.83 L-8.49,8.49 L-8.04,6.75 L-8.04,6.75 L-9.83,6.88 L-10.88,5.07 L-9.87,3.59 L-9.87,3.59 L-11.59,3.11 L-11.95,1.05 L-10.5,0 L-10.5,0 L-11.95,-1.05 L-11.59,-3.11 L-9.87,-3.59 L-9.87,-3.59 L-10.88,-5.07 L-9.83,-6.88 L-8.04,-6.75 L-8.04,-6.75 L-8.49,-8.49 L-6.88,-9.83 L-5.25,-9.09 L-5.25,-9.09 L-5.07,-10.88 L-3.11,-11.59 L-1.82,-10.34 L-1.82,-10.34 L-1.05,-11.95 L1.05,-11.95 L1.82,-10.34 L1.82,-10.34 L3.11,-11.59 L5.07,-10.88 L5.25,-9.09 L5.25,-9.09 L6.88,-9.83 L8.49,-8.49 L8.04,-6.75 L8.04,-6.75 L9.83,-6.88 L10.88,-5.07 L9.87,-3.59 L9.87,-3.59 L11.59,-3.11 L11.95,-1.05 L10.5,-0 L10.5,-0 Z" fill="#fff"/><circle cx="0" cy="0" r="8" fill="#fff"/><path d="M-3.6,-7.14 A8,8 0 0 1 -3.6,7.14"/></g>
<path d="M664,626 C668,622 676,623 680,627 L677.5,628.5 C674,626.5 670,627 667.5,630 L667,635 C664,634 663,630 664,626 Z" fill="#fff"/>
<g transform="translate(660.5,626) rotate(30) scale(0.555,1)" ><circle cx="0" cy="0" r="2.2" fill="#fff"/><path d="M0,-2.2 L9.01,-2.2 M0,2.2 L9.01,2.2"/><path d="M9.01,-2.2 A2.2,2.2 0 0 1 9.01,2.2"/></g>
<g transform="translate(678.4,646.6) rotate(30) scale(0.555,1)" ><path stroke-width="1.15" fill-rule="evenodd" fill="#fff" d="M15.4,0 A15.4,15.4 0 1 0 -15.4,0 A15.4,15.4 0 1 0 15.4,0 Z M13.3,0 A13.3,13.3 0 1 0 -13.3,0 A13.3,13.3 0 1 0 13.3,0 Z"/></g>
<g transform="translate(701.3,659.4) rotate(30) scale(0.555,1)" ><path fill-rule="evenodd" fill="#fff" stroke-width="1.5" d="M17.6,0 A17.6,17.6 0 1 0 -17.6,0 A17.6,17.6 0 1 0 17.6,0 Z M14,0 A14,14 0 1 0 -14,0 A14,14 0 1 0 14,0 Z"/><path d="M14,0 L17.6,0 M13.86,1.99 L17.42,2.5 M13.43,3.94 L16.89,4.96 M12.73,5.82 L16.01,7.31 M11.78,7.57 L14.81,9.52 M10.58,9.17 L13.3,11.53 M9.17,10.58 L11.53,13.3 M7.57,11.78 L9.52,14.81 M5.82,12.73 L7.31,16.01 M3.94,13.43 L4.96,16.89 M1.99,13.86 L2.5,17.42 M0,14 L0,17.6 M-1.99,13.86 L-2.5,17.42 M-3.94,13.43 L-4.96,16.89 M-5.82,12.73 L-7.31,16.01 M-7.57,11.78 L-9.52,14.81 M-9.17,10.58 L-11.53,13.3 M-10.58,9.17 L-13.3,11.53 M-11.78,7.57 L-14.81,9.52 M-12.73,5.82 L-16.01,7.31 M-13.43,3.94 L-16.89,4.96 M-13.86,1.99 L-17.42,2.5 M-14,0 L-17.6,0 M-13.86,-1.99 L-17.42,-2.5 M-13.43,-3.94 L-16.89,-4.96 M-12.73,-5.82 L-16.01,-7.31 M-11.78,-7.57 L-14.81,-9.52 M-10.58,-9.17 L-13.3,-11.53 M-9.17,-10.58 L-11.53,-13.3 M-7.57,-11.78 L-9.52,-14.81 M-5.82,-12.73 L-7.31,-16.01 M-3.94,-13.43 L-4.96,-16.89 M-1.99,-13.86 L-2.5,-17.42 M-0,-14 L-0,-17.6 M1.99,-13.86 L2.5,-17.42 M3.94,-13.43 L4.96,-16.89 M5.82,-12.73 L7.31,-16.01 M7.57,-11.78 L9.52,-14.81 M9.17,-10.58 L11.53,-13.3 M10.58,-9.17 L13.3,-11.53 M11.78,-7.57 L14.81,-9.52 M12.73,-5.82 L16.01,-7.31 M13.43,-3.94 L16.89,-4.96 M13.86,-1.99 L17.42,-2.5 " stroke-width="0.9"/></g>
<g transform="translate(729.5,676) rotate(30) scale(0.555,1)" ><path stroke-width="1.15" fill-rule="evenodd" fill="#fff" d="M17.8,0 A17.8,17.8 0 1 0 -17.8,0 A17.8,17.8 0 1 0 17.8,0 Z M15.9,0 A15.9,15.9 0 1 0 -15.9,0 A15.9,15.9 0 1 0 15.9,0 Z"/></g></g>
<g class="lb">
<text x="381.4" y="53.8">45849T</text>
<text x="406.4" y="68.2">45849T</text>
<text x="431.4" y="82.5">45849T</text>
<text x="456.4" y="97.0">45849T</text>
<text x="353.8" y="129.8">45849T</text>
<text x="378.9" y="144.2">45849T</text>
<text x="403.4" y="157.7">45849T</text>
<text x="433.2" y="173.1">45849T</text>
<text x="209.3" y="114.6">45798</text>
<text x="256.2" y="130.8">45874A</text>
<text x="299.6" y="150.1">45864A</text>
<text x="222.4" y="208.9">45819</text>
<text x="252.2" y="245.1">45868</text>
<text x="356.8" y="183.2">45811</text>
<text x="405.9" y="221.3">45748</text>
<text x="475.6" y="192.4">45737A</text>
<text x="543.7" y="120.1">45720B</text>
<text x="619.7" y="191.3">45738B</text>
<text x="454.4" y="250.5">43182</text>
<text x="422.4" y="323.1">45495</text>
<text x="504.7" y="382.7">45796</text>
<text x="577.2" y="305.5">45720</text>
<text x="298.1" y="358.9">45740D</text>
<text x="327.1" y="394.3">45778</text>
<text x="304.7" y="411.2">45778</text>
<text x="361.9" y="423.7">45778</text>
<text x="268.4" y="461.8">45778</text>
<text x="304.0" y="499.2">45778</text>
<text x="337.7" y="513.4">45778</text>
<text x="437.0" y="463.4">45730C</text>
<text x="490.0" y="476.9">45730C</text>
<text x="518.3" y="493.2">45730C</text>
<text x="511.4" y="509.5">45730C</text>
<text x="494.4" y="531.1">45730C</text>
<text x="522.8" y="546.9">45730C</text>
<text x="425.7" y="515.3">45728E</text>
<text x="346.5" y="526.4">45728E</text>
<text x="383.4" y="570.6">45728E</text>
<text x="413.7" y="592.1">45728E</text>
<text x="438.1" y="576.3">45728E</text>
<text x="466.4" y="596.5">45728E</text>
<text x="496.4" y="610.1">45743A</text>
<text x="658.2" y="370.5">45778B</text>
<text x="692.2" y="396.5">45761</text>
<text x="611.2" y="430.5">45715A</text>
<text x="707.1" y="512.9">45790A</text>
<text x="779.3" y="535.1">45788</text>
<text x="649.6" y="598.8">45888A</text>
<text x="686.4" y="617.5">45851</text>
<text x="713.7" y="639.7">45636B</text>
<text x="599.4" y="655.8">45740G</text>
<text x="659.4" y="691.7">45721</text>
</g>
<text class="wm" x="31.7" y="50.6" fill="#3a6fb0" style="fill:#4a7cc0" filter="url(#ws)" opacity="0.8">avtochast.ru</text>
<text class="wm" x="30.7" y="49.6" style="fill:url(#wg)">avtochast.ru</text>
<text class="wm" x="473.5" y="371.2" fill="#3a6fb0" style="fill:#4a7cc0" filter="url(#ws)" opacity="0.8">avtochast.ru</text>
<text class="wm" x="472.5" y="370.2" style="fill:url(#wg)">avtochast.ru</text>
<text class="wm" x="914.8" y="691.3" fill="#3a6fb0" style="fill:#4a7cc0" filter="url(#ws)" opacity="0.8">avtochast.ru</text>
<text class="wm" x="913.8" y="690.3" style="fill:url(#wg)">avtochast.ru</text>
<text x="20.8" y="715.8" style="font-family:'Liberation Sans',sans-serif;font-weight:bold;font-size:17.6px;fill:#000" transform="translate(20.8 715.8) scale(0.95 1) translate(-20.8 -715.8)">FR.</text>
<path d="M46.8,692.8 L51.7,695.6 L60.6,691 L68.8,695.3 L60.6,700.2 L64.5,702.75 L46.8,702.75 Z" fill="#000"/>
</svg></body></html>
